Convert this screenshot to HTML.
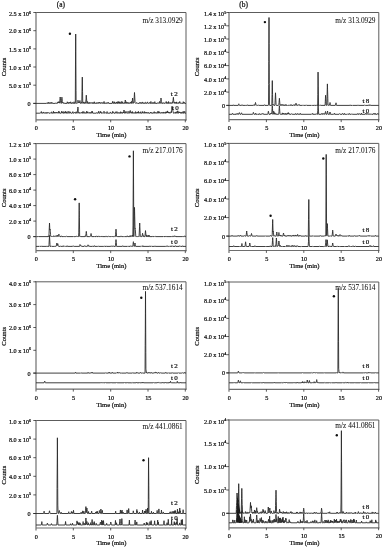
<!DOCTYPE html><html><head><meta charset="utf-8"><style>html,body{margin:0;padding:0;background:#fff;overflow:hidden;}svg{display:block;}text{font-family:"Liberation Serif", serif;fill:#111;stroke:#111;stroke-width:0.22px;}</style></head><body>
<svg width="385" height="550" viewBox="0 0 385 550">
<defs><filter id="bl" x="0" y="0" width="100%" height="100%" filterUnits="userSpaceOnUse"><feGaussianBlur stdDeviation="0.45"/></filter></defs>
<rect width="385" height="550" fill="#fff"/>
<g filter="url(#bl)"><rect width="385" height="550" fill="#fff"/>
<g><path d="M35.5 12.5H186.0V120.5" fill="none" stroke="#5c5c5c" stroke-width="1.00"/><path d="M36.0 12.0V122.3" fill="none" stroke="#6e6e6e" stroke-width="1.20"/><path d="M36.0 119.9H186.5" fill="none" stroke="#6e6e6e" stroke-width="1.20"/><path d="M73.3 119.9V122.3" stroke="#333" stroke-width="0.8"/><path d="M110.7 119.9V122.3" stroke="#333" stroke-width="0.8"/><path d="M148.0 119.9V122.3" stroke="#333" stroke-width="0.8"/><path d="M185.3 119.9V122.3" stroke="#333" stroke-width="0.8"/><path d="M33.3 12.5H36.0" stroke="#333" stroke-width="0.8"/><text x="31.0" y="16.3" font-size="6.2" text-anchor="end">2.5 x 10<tspan font-size="4.0" dy="-2.7">6</tspan></text><path d="M33.3 30.7H36.0" stroke="#333" stroke-width="0.8"/><text x="31.0" y="33.4" font-size="6.2" text-anchor="end">2.0 x 10<tspan font-size="4.0" dy="-2.7">6</tspan></text><path d="M33.3 48.9H36.0" stroke="#333" stroke-width="0.8"/><text x="31.0" y="51.6" font-size="6.2" text-anchor="end">1.5 x 10<tspan font-size="4.0" dy="-2.7">6</tspan></text><path d="M33.3 67.0H36.0" stroke="#333" stroke-width="0.8"/><text x="31.0" y="69.7" font-size="6.2" text-anchor="end">1.0 x 10<tspan font-size="4.0" dy="-2.7">6</tspan></text><path d="M33.3 85.2H36.0" stroke="#333" stroke-width="0.8"/><text x="31.0" y="87.9" font-size="6.2" text-anchor="end">5.0 x 10<tspan font-size="4.0" dy="-2.7">5</tspan></text><path d="M33.3 103.4H36.0" stroke="#333" stroke-width="0.8"/><text x="30.5" y="105.9" font-size="6.2" text-anchor="end">0</text><text x="36.3" y="130.4" font-size="6.2" text-anchor="middle">0</text><text x="73.6" y="130.4" font-size="6.2" text-anchor="middle">5</text><text x="111.0" y="130.4" font-size="6.2" text-anchor="middle">10</text><text x="148.3" y="130.4" font-size="6.2" text-anchor="middle">15</text><text x="185.6" y="130.4" font-size="6.2" text-anchor="middle">20</text><text x="111.4" y="137.2" font-size="6.6" text-anchor="middle">Time (min)</text><text x="0" y="0" font-size="6.6" text-anchor="middle" transform="translate(5.8 67.0) rotate(-90)">Counts</text><text x="182.7" y="22.5" font-size="7.3" text-anchor="end" style="stroke-width:0.05px">m/z 313.0929</text><text x="60.9" y="7.4" font-size="7.4" text-anchor="middle">(a)</text><polyline points="33.30,103.40 46.30,103.40 46.43,103.40 46.55,103.21 46.74,102.89 47.05,103.40 47.23,103.40 47.30,103.22 47.51,102.69 47.79,103.40 48.22,103.40 48.30,103.11 48.51,102.35 48.79,103.40 49.30,103.40 49.55,103.40 49.80,102.68 49.86,102.47 50.05,103.12 50.13,103.40 50.55,103.40 50.74,103.22 51.05,102.49 51.13,102.24 51.30,102.73 51.53,103.40 51.70,103.40 51.80,103.12 52.02,102.49 52.30,103.29 52.55,103.40 55.42,103.40 55.55,103.25 55.76,102.95 55.85,102.90 56.05,102.71 56.27,103.08 56.42,103.40 56.55,103.40 57.37,103.40 57.55,102.61 57.66,102.12 57.75,102.50 57.96,102.46 58.05,101.87 58.30,102.82 58.43,103.04 58.55,102.60 58.74,101.91 58.83,102.21 59.05,102.25 59.14,101.63 59.30,102.08 59.46,102.76 59.55,103.16 59.80,101.27 60.05,98.60 60.18,97.00 60.30,98.07 60.53,100.52 60.80,102.85 60.88,103.22 61.05,103.40 61.30,103.40 61.55,100.82 61.80,98.23 61.90,97.20 62.05,98.75 62.30,101.28 62.47,102.95 62.55,102.84 62.62,102.69 62.80,102.87 62.88,102.73 63.05,102.99 63.20,103.24 63.30,103.14 63.48,102.64 63.55,102.82 63.77,103.40 64.30,103.40 64.38,103.40 64.55,103.04 64.64,102.86 64.80,103.18 64.91,103.40 65.05,103.40 66.94,103.40 67.05,102.97 67.30,101.80 67.55,102.71 67.68,103.25 67.80,103.04 68.05,102.28 68.30,103.01 68.43,103.40 68.94,103.40 69.05,103.06 69.30,102.31 69.38,102.07 69.55,102.59 69.80,103.34 70.05,103.40 70.27,103.26 70.55,102.15 70.63,101.81 70.80,102.56 70.99,103.40 71.05,103.40 71.55,103.40 71.80,102.89 71.87,102.73 72.05,103.13 72.13,103.31 72.30,103.00 72.48,102.56 72.55,102.72 72.80,103.31 73.05,103.40 73.16,103.40 73.30,103.15 73.45,102.90 73.55,103.08 73.73,103.40 73.80,103.10 74.05,101.76 74.30,102.76 74.44,103.40 74.55,103.40 75.30,103.40 75.53,60.03 75.70,34.00 75.80,51.35 76.03,90.39 76.10,102.04 76.19,102.57 76.30,103.17 76.55,103.40 77.05,103.40 77.26,103.32 77.50,102.83 77.61,102.68 77.80,101.48 77.97,100.20 78.05,100.52 78.30,102.12 78.50,102.62 78.62,102.38 78.80,102.95 78.94,103.00 79.05,102.67 79.18,102.31 79.30,102.67 79.40,102.96 79.55,102.53 79.80,101.08 79.90,100.50 80.05,101.37 80.30,102.82 80.40,103.40 80.49,103.40 80.55,103.28 80.80,102.77 81.05,103.26 81.12,103.40 81.24,103.40 81.30,103.21 81.55,102.42 81.62,102.19 81.80,102.74 82.01,91.07 82.30,77.10 82.38,82.01 82.55,91.71 82.71,100.89 82.80,103.40 83.05,103.40 83.30,103.40 83.55,102.13 83.63,102.45 83.80,102.66 84.03,101.91 84.30,102.91 84.43,103.40 84.55,103.40 85.05,103.40 85.30,102.74 85.40,102.40 85.55,102.88 85.70,103.30 85.80,102.03 85.98,99.53 86.05,98.62 86.24,96.03 86.30,95.20 86.49,97.85 86.80,102.03 86.90,103.40 87.23,103.40 87.30,103.07 87.55,101.54 87.80,102.49 87.98,103.40 88.55,103.40 88.80,103.40 89.05,102.56 89.17,102.08 89.30,102.61 89.50,103.40 90.42,103.40 90.55,103.09 90.80,102.48 90.86,102.60 91.05,103.03 91.21,102.92 91.27,102.83 91.55,103.22 91.66,103.37 91.80,103.16 92.05,102.70 92.30,103.08 92.49,103.40 92.55,103.40 92.74,103.40 92.80,103.17 93.01,102.37 93.28,103.40 93.55,103.40 93.80,103.40 93.99,103.10 94.30,101.77 94.55,103.03 94.62,103.40 94.80,103.40 95.05,102.98 95.13,102.81 95.30,103.15 95.42,103.40 96.55,103.40 96.80,102.71 96.88,102.46 97.05,102.98 97.11,103.18 97.19,103.28 97.30,103.10 97.47,102.81 97.55,102.94 97.80,103.34 98.05,103.40 98.30,102.81 98.47,102.39 98.55,102.58 98.80,103.21 98.88,103.40 99.05,103.40 99.12,103.40 99.30,102.88 99.53,102.20 99.64,102.52 99.80,102.97 99.94,102.61 100.02,102.38 100.30,103.12 100.41,103.40 101.30,103.40 101.55,102.92 101.73,102.47 101.80,102.63 102.04,102.29 102.12,102.56 102.30,103.21 102.55,103.40 103.05,103.40 103.25,103.27 103.51,102.78 103.77,103.40 104.05,101.49 104.30,102.92 104.37,103.40 105.55,103.40 105.74,103.40 105.80,103.27 106.05,102.66 106.30,103.11 106.44,103.40 106.55,103.40 106.80,103.40 107.05,102.94 107.20,102.66 107.30,102.84 107.55,103.31 107.77,103.31 108.05,102.59 108.22,102.11 108.30,102.34 108.55,103.06 108.67,103.40 108.80,103.40 112.05,103.40 112.29,103.36 112.55,101.52 112.72,102.51 112.80,102.60 113.01,101.67 113.30,103.39 113.55,103.40 114.23,103.40 114.30,102.99 114.50,101.81 114.78,103.40 115.55,103.40 115.80,102.85 115.88,102.64 116.05,103.07 116.18,103.40 116.30,103.14 116.55,101.94 116.80,102.76 116.96,103.40 117.05,103.40 117.30,103.40 117.55,103.40 117.80,101.64 118.05,103.11 118.30,103.40 118.50,103.09 118.80,101.56 119.05,102.87 119.14,103.21 119.30,102.37 119.38,101.95 119.55,102.86 119.65,103.40 120.22,103.40 120.30,103.17 120.51,102.54 120.79,103.40 120.98,103.40 121.05,103.04 121.30,101.46 121.55,102.54 121.71,103.40 121.80,103.40 122.05,103.40 122.21,103.40 122.30,102.99 122.55,101.76 122.80,102.84 122.92,103.40 123.42,103.40 123.55,103.24 123.80,102.88 124.05,103.13 124.28,103.40 124.55,102.68 124.80,103.27 125.05,101.70 125.20,100.65 125.30,100.00 125.50,101.39 125.80,103.39 125.86,103.40 126.05,102.56 126.23,101.76 126.30,102.10 126.55,103.23 126.80,103.40 127.30,103.40 127.55,102.64 127.71,102.15 127.80,102.42 128.05,103.19 128.12,103.40 128.24,103.40 128.30,103.27 128.55,102.77 128.80,103.28 128.86,103.40 128.97,103.40 129.05,103.24 129.30,102.67 129.55,103.04 129.74,103.40 129.80,103.40 130.05,103.40 130.24,103.21 130.55,102.37 130.66,102.01 130.80,102.50 131.05,103.34 131.30,102.26 131.45,101.42 131.55,101.96 131.80,103.35 132.05,103.40 132.20,102.34 132.30,101.24 132.55,98.00 132.63,98.35 132.80,100.16 133.05,102.86 133.24,103.40 133.30,103.23 133.55,102.58 133.63,102.37 133.80,102.80 133.90,102.47 134.03,100.67 134.28,96.13 134.50,92.50 134.62,94.61 134.80,97.95 134.97,101.07 135.05,102.49 135.30,102.81 135.55,103.12 135.73,103.40 135.80,103.40 136.16,103.40 136.30,103.13 136.55,102.64 136.76,103.02 136.96,103.14 137.05,103.02 137.14,102.89 137.30,103.10 137.53,103.40 139.05,103.40 139.25,103.26 139.55,102.53 139.80,103.18 139.88,103.40 140.05,103.40 140.20,103.40 140.30,103.17 140.54,102.62 140.72,103.03 140.80,103.20 140.88,103.00 141.05,102.59 141.12,102.41 141.30,102.84 141.53,103.40 141.80,103.40 142.05,103.40 142.30,102.66 142.51,101.94 142.80,102.92 142.94,103.40 143.05,103.40 143.15,103.40 143.30,103.03 143.41,102.77 143.55,103.13 143.66,103.40 144.30,103.40 144.55,103.40 144.80,102.84 144.88,102.64 145.05,103.08 145.17,103.40 145.30,103.40 145.38,103.40 145.55,102.86 145.75,102.26 146.05,102.52 146.11,102.60 146.30,103.17 146.38,103.40 147.05,103.40 147.22,103.40 147.30,103.09 147.55,102.16 147.62,101.91 147.80,102.59 148.02,102.78 148.30,103.17 148.44,103.40 149.15,103.40 149.30,103.04 149.53,102.49 149.80,103.14 149.91,103.40 150.05,103.40 150.55,103.40 150.77,101.96 150.88,101.49 151.05,102.55 151.19,103.01 151.30,103.18 151.45,103.40 151.55,103.40 151.70,103.40 151.80,103.21 152.05,102.64 152.30,103.05 152.48,103.40 152.55,103.40 152.80,103.40 153.05,102.55 153.13,102.25 153.30,102.94 153.42,103.40 153.55,103.40 154.55,103.40 154.80,101.66 155.05,103.11 155.30,103.40 157.30,103.40 157.46,103.40 157.55,103.23 157.80,102.77 157.87,102.64 157.97,102.83 158.05,102.97 158.28,102.87 158.55,103.17 158.71,103.40 158.80,103.40 159.05,103.40 159.25,103.14 159.55,101.48 159.80,102.54 159.96,103.40 160.05,103.40 160.28,103.36 160.50,102.86 160.67,101.53 160.80,100.16 160.88,99.27 161.00,98.00 161.07,98.77 161.30,101.24 161.50,102.43 161.76,103.40 161.86,103.40 162.05,102.96 162.18,102.67 162.30,102.95 162.49,103.40 162.80,103.40 163.05,103.40 163.30,102.96 163.43,102.73 163.55,102.96 163.74,103.27 164.02,102.77 164.30,103.40 164.55,103.40 165.05,103.40 165.25,103.32 165.55,102.88 165.62,102.76 165.80,103.09 165.98,102.74 166.05,102.38 166.23,101.51 166.30,101.85 166.55,103.06 166.62,103.40 166.80,103.40 167.05,103.40 167.30,102.65 167.36,102.45 167.55,103.07 167.65,103.40 167.80,103.40 168.05,103.40 168.29,103.35 168.55,101.54 168.80,103.01 168.86,103.40 169.05,103.40 169.23,103.40 169.30,103.26 169.55,102.70 169.80,103.09 169.96,103.40 170.05,103.40 170.30,103.40 170.47,103.40 170.55,103.18 170.80,102.54 170.86,102.38 170.96,102.63 171.05,102.87 171.23,102.78 171.30,102.93 171.51,103.40 172.05,103.40 172.29,103.36 172.55,102.26 172.67,101.74 172.80,102.32 172.90,102.76 173.04,100.96 173.30,98.04 173.40,97.30 173.55,99.13 173.70,100.80 173.80,101.23 173.90,101.67 174.05,102.32 174.30,103.40 174.55,102.70 174.71,102.16 174.80,102.45 174.97,103.03 175.05,103.06 175.28,102.44 175.55,103.28 175.80,103.40 176.21,103.40 176.30,103.01 176.55,101.90 176.80,102.99 176.89,103.40 177.05,103.40 177.30,103.01 177.43,102.80 177.55,103.00 177.79,103.40 178.30,103.40 178.47,103.40 178.55,103.18 178.80,102.50 178.90,102.24 179.05,102.64 179.30,103.26 179.55,102.26 179.72,101.50 179.80,101.89 180.05,102.80 180.12,102.67 180.30,103.02 180.50,103.40 180.57,103.40 180.80,103.09 181.01,102.80 181.30,103.19 181.45,103.40 181.55,103.40 182.80,103.40 183.05,102.59 183.27,101.70 183.55,102.84 183.69,103.40 183.80,103.40 184.05,102.61 184.20,102.07 184.30,102.42 184.55,103.30 184.80,103.40 186.00,103.40" fill="none" stroke="#2a2a2a" stroke-width="0.90" stroke-linejoin="round"/><polyline points="36.00,113.20 39.75,113.20 39.87,113.20 40.00,113.05 40.25,112.69 40.50,112.91 40.75,113.20 40.96,113.02 41.25,111.88 41.33,111.51 41.50,112.28 41.70,113.20 42.00,112.68 42.09,112.48 42.25,112.82 42.42,113.20 42.50,113.20 43.00,113.20 43.25,113.20 43.50,112.31 43.58,111.96 43.75,112.65 43.88,113.04 44.00,112.86 44.11,112.68 44.25,112.91 44.44,113.20 45.50,113.20 45.64,113.20 45.75,112.91 46.00,112.19 46.25,112.84 46.38,113.20 46.50,113.20 47.00,113.20 47.25,112.60 47.35,112.30 47.50,112.74 47.66,113.20 47.75,113.20 48.00,113.20 48.20,113.13 48.50,112.73 48.64,112.50 48.75,112.68 49.00,113.08 49.08,113.20 50.25,113.20 50.35,113.20 50.50,112.98 50.69,112.69 51.00,113.15 51.25,113.20 51.38,113.20 51.50,112.71 51.73,111.80 52.00,112.57 52.08,112.67 52.25,113.04 52.32,113.20 53.00,113.20 53.25,113.20 53.50,111.31 53.75,113.08 54.00,113.20 54.42,113.20 54.50,112.95 54.75,112.18 55.00,112.94 55.08,113.02 55.25,112.40 55.50,113.03 55.75,113.20 56.00,113.20 56.25,113.20 56.50,112.56 56.66,112.07 56.75,112.35 56.88,112.76 57.00,112.92 57.25,112.39 57.50,112.81 57.70,113.20 58.25,113.20 58.33,113.20 58.50,112.35 58.72,111.26 59.00,112.67 59.10,112.82 59.25,111.74 59.50,112.79 59.58,113.20 59.75,113.20 61.00,113.20 61.25,113.20 61.50,112.11 61.66,111.28 61.75,111.76 61.90,112.54 62.00,112.63 62.22,111.75 62.50,113.02 62.75,113.20 63.59,113.20 63.75,112.17 63.85,111.52 64.00,112.43 64.12,113.20 64.25,113.20 64.50,112.59 64.61,112.27 64.75,112.64 64.95,113.20 65.22,113.03 65.50,111.76 65.60,111.26 65.75,112.02 65.98,113.20 66.25,113.20 66.50,112.20 66.56,111.91 66.75,112.74 66.85,113.20 67.25,113.20 67.50,113.20 67.75,112.31 67.89,111.76 67.97,112.04 68.25,111.43 68.50,112.62 68.60,113.20 68.75,113.20 69.41,113.20 69.50,112.86 69.75,111.90 69.84,111.56 70.00,112.18 70.23,113.06 70.50,112.45 70.75,113.02 70.82,113.20 72.25,113.20 72.46,113.03 72.75,112.03 72.85,111.63 73.00,112.23 73.24,113.20 73.50,113.20 74.00,113.20 74.25,112.87 74.47,112.56 74.75,112.98 74.81,113.07 74.91,112.90 75.00,112.60 75.09,112.32 75.25,112.83 75.36,113.20 75.50,113.20 75.75,113.20 75.96,113.02 76.25,111.71 76.50,112.61 76.63,113.20 77.25,113.20 77.50,111.13 77.75,108.55 77.90,107.00 77.99,107.90 78.25,110.62 78.31,111.28 78.50,112.60 78.64,113.20 78.73,113.13 79.00,112.43 79.11,112.13 79.25,112.54 79.48,113.20 80.25,113.20 80.43,113.20 80.50,113.10 80.75,112.76 80.88,112.59 81.00,112.76 81.25,113.10 81.32,113.20 81.50,112.81 81.70,112.29 82.00,113.06 82.25,113.20 82.37,113.20 82.50,112.54 82.68,111.62 82.75,112.00 82.98,113.20 83.37,113.20 83.50,112.69 83.70,111.71 83.80,111.54 84.00,111.79 84.22,112.64 84.35,113.20 84.50,113.20 84.69,113.20 84.75,113.07 85.00,112.43 85.25,112.83 85.42,113.20 85.50,113.20 86.25,113.20 86.32,113.20 86.50,112.12 86.66,111.21 86.75,111.76 87.00,113.20 87.25,113.20 87.45,112.99 87.75,111.76 87.92,112.23 88.00,112.56 88.16,112.82 88.25,112.61 88.50,112.95 88.66,113.20 88.75,113.20 89.25,113.20 89.38,113.20 89.50,112.91 89.75,112.31 90.00,112.92 90.12,113.20 90.25,113.20 90.35,113.20 90.50,112.81 90.63,112.48 90.75,112.80 90.90,113.20 91.34,113.20 91.50,112.55 91.75,111.40 92.00,112.30 92.14,112.87 92.22,112.48 92.42,111.37 92.50,111.88 92.70,113.20 96.25,113.20 96.44,113.20 96.50,113.08 96.75,112.61 96.83,112.45 97.00,112.77 97.22,113.20 98.00,113.20 98.24,113.17 98.50,111.98 98.66,111.23 98.75,111.67 99.00,112.86 99.07,113.20 99.93,113.20 100.00,112.91 100.25,111.86 100.37,111.34 100.50,111.88 100.69,112.68 100.81,112.66 101.00,111.82 101.25,112.87 101.33,113.20 101.75,113.20 101.98,113.17 102.25,112.69 102.50,113.06 102.58,113.20 102.75,113.20 103.25,113.20 103.48,113.15 103.62,112.84 103.75,112.40 104.00,111.22 104.07,111.51 104.25,112.44 104.40,113.20 104.50,113.20 104.75,113.20 104.84,113.20 105.00,112.95 105.25,112.50 105.50,112.86 105.71,113.20 106.75,113.20 107.00,111.96 107.08,111.57 107.25,112.45 107.40,113.20 109.75,113.20 109.99,113.18 110.25,112.36 110.38,111.94 110.50,112.34 110.75,113.16 111.00,113.20 112.50,113.20 112.75,111.32 113.00,112.61 113.07,113.06 113.25,112.87 113.46,112.49 113.75,113.02 113.85,113.20 114.00,113.20 115.16,113.20 115.25,112.87 115.50,111.80 115.75,112.57 115.92,113.20 116.33,113.20 116.50,112.63 116.75,111.79 117.00,112.06 117.06,111.76 117.17,112.26 117.25,112.60 117.38,113.20 117.85,113.20 118.00,112.81 118.18,112.34 118.25,112.53 118.50,113.19 118.75,113.20 119.50,113.20 119.59,113.20 119.75,112.69 119.84,112.39 120.00,112.90 120.09,113.20 120.25,113.20 120.43,113.20 120.50,112.76 120.68,111.69 120.75,112.11 120.93,113.20 121.00,113.20 121.24,113.18 121.50,112.64 121.75,113.14 122.00,112.61 122.09,112.37 122.25,112.77 122.42,113.20 122.50,113.20 122.75,113.20 123.00,113.20 123.25,112.22 123.31,111.92 123.50,112.84 123.58,112.72 123.65,112.25 123.75,111.60 124.00,110.00 124.25,111.60 124.36,112.29 124.50,113.20 124.82,113.20 125.00,112.31 125.18,111.44 125.25,111.80 125.50,113.03 125.75,113.20 126.00,113.20 126.25,113.20 126.50,112.58 126.60,112.31 126.71,111.97 127.00,111.39 127.15,112.00 127.25,112.46 127.42,113.20 127.50,113.20 128.50,113.20 128.66,112.52 128.75,112.09 128.90,111.43 129.00,111.89 129.08,111.67 129.25,112.29 129.50,113.20 129.75,113.20 129.86,112.90 130.00,112.12 130.24,110.50 130.50,111.58 130.63,112.29 130.75,112.93 131.00,113.20 131.25,112.71 131.45,112.22 131.75,112.95 131.85,113.20 131.99,113.16 132.25,111.47 132.50,113.10 132.75,113.20 133.40,113.20 133.50,112.98 133.67,112.59 133.75,112.77 133.94,113.20 134.25,113.20 134.32,113.20 134.50,112.90 134.62,112.70 134.75,112.92 134.92,113.20 135.32,113.20 135.50,112.15 135.59,111.62 135.75,112.58 135.85,113.20 136.25,113.20 136.47,113.12 136.75,112.41 136.82,112.23 137.00,112.75 137.16,113.20 137.25,113.20 137.45,113.00 137.74,112.09 138.00,113.09 138.25,112.07 138.38,111.35 138.50,111.99 138.72,113.20 139.00,113.20 139.37,113.20 139.50,112.95 139.75,112.42 140.00,112.85 140.19,113.20 140.25,113.20 140.49,113.17 140.75,112.03 140.83,111.68 141.00,112.47 141.16,113.20 142.25,113.20 142.47,113.00 142.71,111.49 143.00,112.63 143.07,112.39 143.25,112.64 143.50,113.13 143.75,113.20 144.00,113.20 144.25,113.20 144.50,111.99 144.58,111.57 144.75,112.50 144.88,113.20 145.00,113.20 145.25,113.20 145.46,113.06 145.71,112.41 145.94,113.04 146.25,112.32 146.50,112.99 146.58,113.20 146.72,113.16 147.00,112.75 147.14,112.52 147.25,112.69 147.50,113.10 147.56,113.20 147.75,113.20 147.86,113.20 148.00,112.83 148.22,112.26 148.50,112.97 148.59,113.20 150.00,113.20 150.25,113.20 150.50,112.37 150.57,112.14 150.64,112.36 150.75,112.73 150.89,112.42 151.00,112.02 151.25,112.71 151.41,113.20 151.50,113.20 152.75,113.20 152.99,113.16 153.25,112.53 153.50,113.06 153.56,113.20 153.75,113.20 153.96,112.99 154.25,111.66 154.50,112.81 154.58,113.20 154.75,113.20 155.25,113.20 155.48,113.14 155.75,112.48 155.88,112.14 156.00,112.46 156.25,113.12 156.50,113.20 157.41,113.20 157.50,112.79 157.75,111.66 157.82,111.34 158.00,112.14 158.23,113.20 158.48,113.12 158.75,112.01 158.88,111.43 159.00,111.96 159.25,113.07 159.42,113.20 159.50,113.00 159.62,112.69 159.75,112.29 160.00,112.63 160.16,112.84 160.25,112.97 160.41,113.20 160.50,113.20 160.75,113.20 160.93,113.20 161.00,113.08 161.25,112.57 161.50,112.98 161.62,113.20 161.70,113.07 162.00,112.40 162.12,112.09 162.25,112.45 162.50,113.12 162.75,113.20 163.25,113.20 163.48,113.12 163.75,111.98 164.00,112.68 164.14,113.20 164.25,113.20 164.50,112.84 164.63,112.65 164.75,112.83 165.00,113.20 165.25,113.19 165.50,112.26 165.60,111.87 165.75,112.42 165.96,113.20 166.06,113.20 166.25,112.62 166.39,112.18 166.50,112.51 166.66,113.00 166.73,112.80 167.00,111.53 167.16,112.06 167.25,112.46 167.42,111.63 167.50,110.92 167.73,112.12 167.91,112.37 168.00,111.87 168.25,112.99 168.46,113.07 168.75,112.16 169.00,113.04 169.19,113.07 169.25,113.07 169.50,112.39 169.75,112.84 169.82,113.01 169.91,113.20 170.00,113.20 170.19,113.20 170.25,113.10 170.50,112.72 170.57,112.61 170.75,112.89 170.95,112.95 171.24,111.44 171.36,112.22 171.50,112.47 171.75,109.53 172.00,106.30 172.17,108.70 172.25,109.75 172.50,108.95 172.60,108.50 172.68,109.10 172.75,109.68 172.82,110.25 173.00,111.24 173.10,111.49 173.20,111.98 173.44,113.20 173.50,113.20 174.38,113.20 174.50,113.00 174.75,112.54 175.00,112.90 175.18,113.20 175.25,113.20 175.50,113.20 175.75,111.95 176.00,112.74 176.11,113.20 176.25,113.20 176.50,112.43 176.72,111.69 177.00,112.67 177.15,113.20 177.25,113.20 177.33,113.20 177.43,112.57 177.50,112.16 177.73,110.81 178.00,112.44 178.13,113.20 178.50,113.20 178.75,112.23 178.88,111.69 179.00,112.19 179.10,112.61 179.24,112.76 179.50,112.03 179.60,112.32 179.75,112.76 179.90,112.36 180.00,111.97 180.25,112.53 180.49,113.20 180.85,113.20 181.00,112.61 181.16,111.98 181.25,112.35 181.46,113.20 181.75,113.20 181.92,113.20 182.00,113.01 182.24,112.41 182.50,113.08 182.75,113.20 182.90,113.20 183.00,112.55 183.19,111.28 183.25,111.69 183.47,113.20 184.00,113.20 184.25,113.20 184.50,112.26 184.71,111.35 185.00,112.66 185.12,113.20 186.00,113.20" fill="none" stroke="#2a2a2a" stroke-width="0.90" stroke-linejoin="round"/><text x="170.8" y="96.4" font-size="7.0" letter-spacing="1.4">t2</text><text x="172.0" y="110.1" font-size="7.0" letter-spacing="1.4">t0</text></g>
<g><path d="M228.5 12.5H378.8V120.3" fill="none" stroke="#5c5c5c" stroke-width="1.00"/><path d="M229.0 12.0V122.1" fill="none" stroke="#6e6e6e" stroke-width="1.20"/><path d="M229.0 119.7H379.3" fill="none" stroke="#6e6e6e" stroke-width="1.20"/><path d="M266.4 119.7V122.1" stroke="#333" stroke-width="0.8"/><path d="M303.8 119.7V122.1" stroke="#333" stroke-width="0.8"/><path d="M341.2 119.7V122.1" stroke="#333" stroke-width="0.8"/><path d="M378.6 119.7V122.1" stroke="#333" stroke-width="0.8"/><path d="M226.3 12.5H229.0" stroke="#333" stroke-width="0.8"/><text x="226.2" y="16.3" font-size="6.2" text-anchor="end">1.4 x 10<tspan font-size="4.0" dy="-2.7">5</tspan></text><path d="M226.3 25.8H229.0" stroke="#333" stroke-width="0.8"/><text x="226.2" y="28.5" font-size="6.2" text-anchor="end">1.2 x 10<tspan font-size="4.0" dy="-2.7">5</tspan></text><path d="M226.3 39.0H229.0" stroke="#333" stroke-width="0.8"/><text x="226.2" y="41.7" font-size="6.2" text-anchor="end">1.0 x 10<tspan font-size="4.0" dy="-2.7">5</tspan></text><path d="M226.3 52.3H229.0" stroke="#333" stroke-width="0.8"/><text x="226.2" y="55.0" font-size="6.2" text-anchor="end">8.0 x 10<tspan font-size="4.0" dy="-2.7">4</tspan></text><path d="M226.3 65.6H229.0" stroke="#333" stroke-width="0.8"/><text x="226.2" y="68.3" font-size="6.2" text-anchor="end">6.0 x 10<tspan font-size="4.0" dy="-2.7">4</tspan></text><path d="M226.3 78.9H229.0" stroke="#333" stroke-width="0.8"/><text x="226.2" y="81.6" font-size="6.2" text-anchor="end">4.0 x 10<tspan font-size="4.0" dy="-2.7">4</tspan></text><path d="M226.3 92.1H229.0" stroke="#333" stroke-width="0.8"/><text x="226.2" y="94.8" font-size="6.2" text-anchor="end">2.0 x 10<tspan font-size="4.0" dy="-2.7">4</tspan></text><path d="M226.3 105.4H229.0" stroke="#333" stroke-width="0.8"/><text x="225.0" y="107.9" font-size="6.2" text-anchor="end">0</text><text x="229.3" y="130.2" font-size="6.2" text-anchor="middle">0</text><text x="266.7" y="130.2" font-size="6.2" text-anchor="middle">5</text><text x="304.1" y="130.2" font-size="6.2" text-anchor="middle">10</text><text x="341.5" y="130.2" font-size="6.2" text-anchor="middle">15</text><text x="378.9" y="130.2" font-size="6.2" text-anchor="middle">20</text><text x="304.5" y="137.0" font-size="6.6" text-anchor="middle">Time (min)</text><text x="0" y="0" font-size="6.6" text-anchor="middle" transform="translate(198.7 66.9) rotate(-90)">Counts</text><text x="375.5" y="22.5" font-size="7.3" text-anchor="end" style="stroke-width:0.05px">m/z 313.0929</text><text x="243.6" y="7.4" font-size="7.4" text-anchor="middle">(b)</text><polyline points="226.30,105.40 233.05,105.40 233.19,105.40 233.30,105.15 233.45,104.82 233.55,105.06 233.70,105.40 238.30,105.40 238.55,104.60 238.62,104.38 238.80,103.80 239.04,104.57 239.30,105.14 239.47,105.40 239.55,105.40 241.55,105.40 241.67,105.40 241.80,105.18 242.05,104.70 242.30,105.05 242.51,105.40 245.55,105.40 245.80,105.40 246.05,105.08 246.13,104.97 246.30,105.19 246.46,105.40 246.55,105.40 247.05,105.40 247.12,105.40 247.30,105.06 247.44,104.78 247.55,104.99 247.76,105.40 253.45,105.40 253.55,105.31 253.77,105.10 253.84,105.16 254.05,104.79 254.20,104.54 254.30,104.77 254.55,105.37 254.80,105.40 254.90,105.40 255.05,104.67 255.30,103.47 255.50,102.50 255.80,103.95 256.05,105.16 256.30,105.40 256.55,105.16 256.71,104.97 256.80,105.08 257.05,105.38 257.30,105.40 257.80,105.40 258.01,105.37 258.30,105.19 258.39,105.13 258.55,105.24 258.77,105.40 259.05,105.40 264.05,105.40 264.15,105.40 264.30,105.14 264.55,104.70 264.80,105.15 264.94,105.40 268.05,105.40 268.27,105.37 268.40,105.25 268.55,104.87 268.69,84.52 268.79,61.45 269.00,17.50 269.12,43.43 269.21,63.87 269.30,83.43 269.40,104.87 269.55,105.27 269.64,105.40 269.80,105.40 271.55,105.40 271.80,105.40 272.05,94.38 272.17,87.76 272.30,80.60 272.55,94.38 272.61,97.85 272.72,103.64 272.80,105.15 273.05,104.21 273.16,104.36 273.30,104.80 273.49,104.92 273.80,105.37 274.05,105.40 274.90,105.40 275.05,102.25 275.30,97.00 275.50,92.80 275.80,99.10 276.05,104.35 276.30,105.40 278.37,105.40 278.55,105.14 278.77,104.84 279.05,102.44 279.18,100.89 279.30,99.48 279.40,98.30 279.55,100.08 279.80,103.03 280.00,105.40 280.46,105.40 280.55,105.14 280.74,104.56 280.80,104.76 281.01,105.20 281.21,105.08 281.30,105.15 281.55,105.35 281.61,105.36 281.80,104.85 282.02,104.27 282.30,105.03 282.44,105.40 282.50,105.32 282.80,104.84 283.05,105.20 283.17,105.40 283.55,105.40 283.62,105.40 283.80,104.84 283.88,104.59 284.05,105.11 284.14,105.40 285.55,105.40 285.80,104.67 285.90,104.33 286.05,104.86 286.21,105.40 286.30,105.40 287.05,105.40 287.30,105.40 287.55,105.00 287.80,105.26 287.90,105.40 288.30,105.40 288.55,105.21 288.69,105.07 288.80,105.17 288.93,105.30 289.03,105.24 289.28,104.93 289.55,105.28 289.64,105.40 289.78,105.37 290.05,104.93 290.30,105.22 290.42,105.40 290.67,105.40 290.80,105.07 291.03,104.49 291.30,105.19 291.38,105.40 291.55,105.40 293.13,105.40 293.30,105.23 293.52,105.01 293.73,105.22 293.80,105.22 293.92,104.89 294.05,104.45 294.30,105.07 294.42,105.40 295.30,105.40 295.50,105.18 295.80,104.08 296.00,103.20 296.30,104.52 296.50,105.29 296.80,104.58 297.05,105.22 297.12,105.40 297.30,105.40 297.88,105.40 298.05,105.29 298.27,105.13 298.55,105.00 298.70,104.79 298.80,104.93 299.01,105.24 299.12,105.10 299.30,104.64 299.55,105.30 299.80,105.40 302.30,105.40 302.40,105.40 302.55,105.29 302.66,105.21 302.73,105.16 302.80,105.21 303.05,105.03 303.30,105.21 303.52,105.40 303.80,105.40 305.55,105.40 305.79,105.39 306.05,105.08 306.23,104.87 306.30,104.95 306.55,105.26 306.67,105.40 306.80,105.40 311.30,105.40 311.38,105.40 311.55,105.23 311.79,104.98 312.05,105.24 312.20,105.40 312.30,105.40 314.55,105.40 314.80,105.17 315.05,105.33 315.14,105.40 316.05,105.40 316.20,105.40 316.30,105.23 316.49,104.91 316.55,105.01 316.78,105.40 317.65,105.40 317.80,94.30 317.91,85.94 318.05,72.10 318.30,86.90 318.55,105.29 318.75,105.40 319.00,105.33 319.30,104.93 319.55,105.19 319.71,105.40 319.80,105.40 320.05,105.29 320.30,105.16 320.55,105.30 320.74,105.40 321.05,105.40 325.05,105.40 325.19,103.66 325.30,101.36 325.45,98.33 325.55,95.30 325.71,97.58 325.80,99.34 326.05,104.39 326.30,105.40 326.55,105.40 326.80,105.40 327.05,96.44 327.30,87.48 327.40,83.90 327.55,89.28 327.80,98.23 327.91,102.25 328.00,105.15 328.18,104.92 328.30,105.12 328.45,105.40 329.30,105.40 329.50,105.11 329.80,103.66 330.00,102.50 330.30,104.24 330.50,105.40 335.30,105.40 335.50,105.14 335.80,103.84 336.00,102.80 336.30,104.36 336.50,105.40 349.80,105.40 349.92,105.40 350.05,105.14 350.19,104.86 350.30,105.09 350.45,105.40 351.98,105.40 352.05,105.32 352.30,105.02 352.55,105.33 352.80,105.40 357.55,105.40 357.77,105.35 358.05,104.90 358.30,105.27 358.38,105.40 364.30,105.40 364.55,105.19 364.69,105.05 364.80,105.15 365.05,105.39 365.30,105.40 368.55,105.40 368.75,105.29 369.05,104.76 369.30,105.22 369.39,105.40 369.80,105.40 370.05,104.93 370.11,104.79 370.30,105.22 370.38,105.40 370.55,105.40 378.80,105.40" fill="none" stroke="#2a2a2a" stroke-width="0.90" stroke-linejoin="round"/><polyline points="229.00,114.30 232.00,114.30 232.10,114.30 232.25,113.93 232.50,113.27 232.75,113.84 232.94,114.30 233.00,114.30 236.00,114.30 236.25,113.76 236.31,113.62 236.50,114.06 236.61,114.30 237.25,114.30 237.42,114.30 237.50,114.11 237.75,113.48 237.87,113.19 238.00,113.52 238.25,114.15 238.31,114.30 238.50,114.30 238.75,114.30 238.82,114.23 239.00,113.73 239.25,112.98 239.40,112.60 239.50,112.88 239.71,113.48 240.00,114.30 240.25,114.30 241.00,114.30 241.25,113.55 241.50,112.80 241.75,113.55 242.00,114.30 252.50,114.30 252.75,114.30 253.00,113.63 253.25,112.80 253.40,112.30 253.50,112.63 253.75,113.47 254.00,114.30 254.25,114.30 255.37,114.30 255.50,113.77 255.66,113.13 255.75,113.50 255.95,114.30 256.75,114.30 257.00,114.07 257.12,113.95 257.25,114.08 257.45,114.30 257.75,114.30 259.00,114.30 259.11,114.30 259.25,113.94 259.40,113.57 259.50,113.84 259.68,114.30 261.36,114.30 261.50,114.19 261.75,113.98 261.91,114.09 262.00,114.14 262.17,113.86 262.25,113.65 262.50,114.01 262.61,114.18 262.75,114.01 263.00,113.41 263.25,113.84 263.47,114.30 267.50,114.30 267.75,114.30 268.00,113.27 268.24,111.97 268.40,111.20 268.50,111.72 268.57,112.10 268.75,113.01 268.91,113.84 269.00,114.30 270.25,114.30 270.47,114.19 270.75,113.28 270.91,113.80 271.00,113.97 271.25,113.50 271.50,114.06 271.60,113.96 271.70,113.33 271.88,111.79 272.00,110.00 272.23,106.42 272.30,105.70 272.50,108.57 272.75,112.15 272.90,114.30 273.00,114.30 273.20,113.99 273.50,112.44 273.70,111.20 274.00,113.06 274.20,114.30 274.28,114.10 274.50,113.29 274.65,112.61 274.73,112.96 275.00,114.13 275.14,114.30 275.42,114.30 275.50,114.11 275.75,113.42 276.00,113.91 276.16,114.30 278.50,114.30 278.75,114.30 279.00,111.47 279.22,107.92 279.40,105.80 279.50,107.22 279.59,108.44 279.70,110.08 279.95,113.56 280.04,113.48 280.25,114.00 280.37,114.30 281.75,114.30 282.00,114.30 282.25,113.27 282.35,112.88 282.50,113.51 282.69,114.30 282.75,114.30 282.90,114.30 283.00,113.89 283.19,113.10 283.42,114.00 283.49,114.19 283.75,113.77 284.00,113.55 284.19,113.91 284.34,114.30 284.75,114.30 285.00,113.66 285.12,113.27 285.25,113.67 285.45,114.30 285.81,114.30 286.00,113.65 286.07,113.42 286.25,114.06 286.32,114.30 287.00,114.30 287.25,113.74 287.32,113.54 287.50,113.61 287.58,113.04 287.75,113.54 287.93,114.30 288.00,114.04 288.25,112.53 288.50,113.47 288.65,113.82 288.75,113.93 289.00,113.43 289.10,113.28 289.25,113.75 289.43,114.30 291.00,114.30 291.24,114.24 291.50,113.86 291.63,113.65 291.75,113.85 292.00,114.25 292.25,114.30 295.25,114.30 295.50,113.72 295.59,113.46 295.75,113.90 295.89,114.30 297.25,114.30 297.36,114.30 297.50,113.94 297.69,113.45 298.00,114.23 298.25,114.30 299.75,114.30 299.99,114.26 300.25,113.27 300.50,113.94 300.61,114.30 311.25,114.30 311.38,114.30 311.50,114.18 311.75,113.92 312.00,114.15 312.16,114.30 312.25,114.30 312.50,113.63 312.61,113.31 312.75,113.71 312.95,114.30 315.75,114.30 315.83,114.30 316.00,114.06 316.25,113.67 316.50,113.99 316.71,114.30 317.00,114.30 317.50,114.30 317.75,110.34 318.00,106.38 318.10,104.80 318.25,107.17 318.50,111.13 318.70,114.30 319.00,114.30 321.25,114.30 321.47,114.24 321.71,113.65 321.84,113.43 322.00,113.17 322.21,113.65 322.41,114.30 322.50,114.30 322.75,114.30 322.94,114.30 323.00,114.19 323.25,113.75 323.36,113.56 323.50,113.80 323.75,114.23 323.99,114.27 324.25,113.64 324.50,114.22 324.75,114.30 324.90,114.30 325.00,113.83 325.25,112.67 325.50,111.50 325.75,112.67 326.00,113.83 326.10,114.30 326.90,114.30 327.00,113.75 327.25,112.38 327.50,111.00 327.75,112.38 328.00,113.75 328.10,114.30 329.50,114.30 329.75,113.10 330.00,112.00 330.25,113.15 330.50,114.30 333.25,114.30 333.50,114.30 333.75,113.99 334.00,114.23 334.18,114.30 334.25,114.08 334.50,113.26 334.75,113.98 334.86,114.30 339.00,114.30 339.20,114.21 339.50,113.79 339.62,113.59 339.75,113.81 340.00,114.24 340.25,114.30 342.00,114.30 342.07,114.30 342.25,113.94 342.50,113.38 342.75,113.85 342.97,114.30 344.00,114.30 344.13,114.30 344.25,113.87 344.41,113.32 344.50,113.65 344.68,114.30 344.75,114.30 346.75,114.30 347.00,114.10 347.23,113.87 347.50,114.14 347.66,114.30 347.75,114.30 348.75,114.30 348.96,114.19 349.25,113.41 349.50,113.95 349.63,114.30 349.75,114.30 351.43,114.30 351.50,114.21 351.75,113.90 351.84,113.79 352.00,114.00 352.25,114.30 352.50,114.30 357.25,114.30 357.48,114.25 357.75,113.64 357.84,113.41 358.00,113.79 358.21,114.30 359.08,114.30 359.25,114.02 359.48,113.64 359.75,114.10 359.87,114.30 360.00,114.30 361.00,114.30 361.16,114.30 361.25,113.92 361.44,113.12 361.50,113.40 361.71,114.30 365.00,114.30 365.22,114.22 365.50,113.62 365.61,113.35 365.75,113.68 366.00,114.29 366.14,114.30 366.25,114.06 366.45,113.60 366.75,114.27 366.88,114.30 367.00,114.09 367.25,113.64 367.33,113.50 367.50,113.80 367.75,114.25 368.00,114.30 368.25,114.30 368.32,114.30 368.50,113.91 368.59,113.71 368.75,114.04 368.87,114.30 369.00,114.30 369.25,114.30 369.36,114.30 369.50,114.18 369.75,113.95 370.00,114.15 370.17,114.30 370.25,114.30 370.33,114.30 370.50,113.99 370.60,113.80 370.75,114.09 370.86,114.30 371.00,114.30 371.40,114.30 371.50,114.16 371.70,113.88 372.00,114.30 373.00,114.30 373.23,114.25 373.50,113.71 373.61,113.48 373.75,113.79 373.91,114.14 373.99,114.12 374.23,113.64 374.50,114.21 374.75,114.30 374.84,114.30 375.00,113.76 375.17,113.20 375.25,113.47 375.50,114.30 377.25,114.30 377.44,114.15 377.75,113.50 377.81,113.34 378.00,113.81 378.19,114.30 378.25,114.30 378.75,114.30" fill="none" stroke="#2a2a2a" stroke-width="0.90" stroke-linejoin="round"/><text x="362.4" y="102.5" font-size="7.0" letter-spacing="1.4">t8</text><text x="362.4" y="113.3" font-size="7.0" letter-spacing="1.4">t0</text></g>
<g><path d="M35.5 143.6H186.0V251.3" fill="none" stroke="#5c5c5c" stroke-width="1.00"/><path d="M36.0 143.1V253.1" fill="none" stroke="#6e6e6e" stroke-width="1.20"/><path d="M36.0 250.7H186.5" fill="none" stroke="#6e6e6e" stroke-width="1.20"/><path d="M73.3 250.7V253.1" stroke="#333" stroke-width="0.8"/><path d="M110.7 250.7V253.1" stroke="#333" stroke-width="0.8"/><path d="M148.0 250.7V253.1" stroke="#333" stroke-width="0.8"/><path d="M185.3 250.7V253.1" stroke="#333" stroke-width="0.8"/><path d="M33.3 143.6H36.0" stroke="#333" stroke-width="0.8"/><text x="31.0" y="147.4" font-size="6.2" text-anchor="end">1.2 x 10<tspan font-size="4.0" dy="-2.7">5</tspan></text><path d="M33.3 159.1H36.0" stroke="#333" stroke-width="0.8"/><text x="31.0" y="161.8" font-size="6.2" text-anchor="end">1.0 x 10<tspan font-size="4.0" dy="-2.7">5</tspan></text><path d="M33.3 174.6H36.0" stroke="#333" stroke-width="0.8"/><text x="31.0" y="177.3" font-size="6.2" text-anchor="end">8.0 x 10<tspan font-size="4.0" dy="-2.7">4</tspan></text><path d="M33.3 190.1H36.0" stroke="#333" stroke-width="0.8"/><text x="31.0" y="192.8" font-size="6.2" text-anchor="end">6.0 x 10<tspan font-size="4.0" dy="-2.7">4</tspan></text><path d="M33.3 205.6H36.0" stroke="#333" stroke-width="0.8"/><text x="31.0" y="208.3" font-size="6.2" text-anchor="end">4.0 x 10<tspan font-size="4.0" dy="-2.7">4</tspan></text><path d="M33.3 221.1H36.0" stroke="#333" stroke-width="0.8"/><text x="31.0" y="223.8" font-size="6.2" text-anchor="end">2.0 x 10<tspan font-size="4.0" dy="-2.7">4</tspan></text><path d="M33.3 236.6H36.0" stroke="#333" stroke-width="0.8"/><text x="30.5" y="239.1" font-size="6.2" text-anchor="end">0</text><text x="36.3" y="261.2" font-size="6.2" text-anchor="middle">0</text><text x="73.6" y="261.2" font-size="6.2" text-anchor="middle">5</text><text x="111.0" y="261.2" font-size="6.2" text-anchor="middle">10</text><text x="148.3" y="261.2" font-size="6.2" text-anchor="middle">15</text><text x="185.6" y="261.2" font-size="6.2" text-anchor="middle">20</text><text x="111.4" y="268.0" font-size="6.6" text-anchor="middle">Time (min)</text><text x="0" y="0" font-size="6.6" text-anchor="middle" transform="translate(5.8 197.9) rotate(-90)">Counts</text><text x="182.7" y="153.2" font-size="7.3" text-anchor="end" style="stroke-width:0.05px">m/z 217.0176</text><polyline points="33.30,236.60 35.64,236.60 35.80,236.49 36.02,236.35 36.30,236.54 36.39,236.60 36.55,236.60 37.80,236.60 38.04,236.58 38.30,236.20 38.38,236.08 38.55,236.32 38.73,236.60 48.05,236.60 48.30,235.90 48.55,236.47 48.80,236.60 48.90,236.60 49.05,233.20 49.30,227.53 49.50,223.00 49.80,229.80 50.05,229.00 50.27,231.14 50.55,234.70 50.70,236.04 50.80,236.28 50.93,236.60 51.05,236.60 51.13,236.60 51.30,236.41 51.49,236.19 51.80,236.54 51.96,236.60 52.05,236.50 52.30,236.19 52.39,236.08 52.55,236.27 52.80,236.57 53.05,236.60 53.38,236.60 53.55,236.26 53.75,235.74 53.81,235.72 54.05,236.15 54.18,235.96 54.24,236.05 54.30,236.14 54.55,236.51 54.80,236.60 55.14,236.60 55.30,236.50 55.53,236.35 55.80,235.93 55.92,236.11 56.05,236.00 56.14,235.77 56.25,235.47 56.55,236.24 56.69,236.60 57.05,236.60 57.28,236.52 57.55,235.47 57.63,235.11 57.80,235.80 57.99,235.92 58.30,236.46 58.37,236.28 58.51,235.52 58.77,234.43 58.90,234.00 58.99,234.39 59.05,234.65 59.23,235.41 59.30,235.73 59.38,236.08 59.50,236.11 59.77,236.52 60.05,236.60 60.97,236.60 61.05,236.43 61.30,235.81 61.55,236.21 61.74,236.60 63.55,236.60 63.70,236.60 63.80,236.43 64.05,236.00 64.30,236.44 64.39,236.60 64.55,236.60 65.80,236.60 66.01,236.57 66.30,236.36 66.44,236.25 66.55,236.34 66.80,236.55 66.86,236.60 73.41,236.60 73.55,236.46 73.71,236.31 73.80,236.40 74.01,236.60 74.30,236.60 74.80,236.60 75.00,236.49 75.26,236.02 75.52,236.60 75.80,236.60 76.05,236.60 76.30,236.40 76.46,236.25 76.55,236.33 76.80,236.54 76.86,236.60 76.93,236.60 77.05,236.43 77.30,236.08 77.55,236.43 77.67,236.60 77.80,236.60 78.55,236.60 78.75,232.86 79.05,214.13 79.20,202.90 79.30,210.39 79.40,217.80 79.55,229.11 79.65,236.37 79.78,236.25 80.05,236.49 80.17,236.37 80.30,236.05 80.55,236.49 80.80,236.60 84.95,236.60 85.05,236.37 85.30,235.71 85.55,236.22 85.70,236.51 85.80,235.73 86.05,233.57 86.30,231.40 86.55,233.57 86.80,235.73 86.90,236.60 89.80,236.60 90.00,236.56 90.30,236.37 90.50,236.34 90.63,235.95 90.80,235.05 91.05,233.50 91.30,234.53 91.55,235.83 91.70,236.60 93.97,236.60 94.05,236.48 94.30,236.13 94.55,236.48 94.63,236.60 96.17,236.60 96.30,236.37 96.55,235.89 96.80,236.30 96.97,236.60 98.05,236.60 98.30,236.60 98.55,236.29 98.78,235.90 99.05,236.33 99.21,236.60 100.36,236.60 100.55,236.33 100.62,236.22 100.80,236.48 100.88,236.60 101.05,236.60 101.46,236.60 101.55,236.45 101.69,236.16 101.80,236.30 101.97,235.98 102.05,236.07 102.30,236.57 102.55,236.60 105.55,236.60 105.77,236.54 106.05,236.09 106.14,235.93 106.30,236.21 106.52,236.60 107.87,236.60 108.05,236.44 108.30,236.23 108.55,236.45 108.72,236.60 109.63,236.60 109.80,236.31 109.90,236.14 110.05,236.41 110.16,236.60 110.30,236.60 110.80,236.60 111.02,236.55 111.30,236.20 111.40,236.05 111.55,236.26 111.79,236.60 112.05,236.60 112.30,236.60 112.50,236.51 112.78,236.10 113.05,236.58 113.30,236.60 113.80,236.60 114.05,236.42 114.20,236.29 114.30,236.38 114.55,236.59 114.80,236.60 115.30,236.60 115.40,236.60 115.55,234.75 115.80,231.67 116.00,229.20 116.30,232.90 116.55,235.98 116.73,236.60 116.80,236.50 117.00,236.22 117.28,236.60 120.70,236.60 120.80,236.42 121.05,235.89 121.30,236.28 121.48,236.60 121.55,236.60 123.55,236.60 123.80,236.41 124.04,236.18 124.30,236.43 124.47,236.60 124.55,236.60 126.80,236.60 127.05,236.58 127.30,235.79 127.55,236.47 127.80,236.60 129.80,236.60 130.05,235.85 130.15,235.47 130.30,236.06 130.44,236.60 130.55,236.60 131.24,236.60 131.30,236.49 131.54,236.05 131.64,235.89 131.80,235.88 131.90,236.15 132.05,236.00 132.30,235.06 132.55,235.93 132.73,236.60 132.80,236.60 133.00,225.87 133.30,172.25 133.40,150.80 133.55,182.98 133.80,236.60 134.05,226.17 134.30,215.74 134.42,210.90 134.50,207.40 134.60,211.57 134.71,216.16 134.80,219.91 135.00,228.42 135.20,228.00 135.30,229.43 135.55,233.02 135.80,236.60 136.44,236.60 136.55,236.48 136.80,236.20 136.89,236.10 137.05,236.28 137.30,236.55 137.55,236.60 138.30,236.60 138.55,236.32 138.70,236.14 138.80,236.26 139.05,236.55 139.30,232.07 139.55,226.40 139.70,223.00 139.80,225.27 140.05,230.93 140.16,233.31 140.30,236.35 140.47,236.05 140.55,236.18 140.79,236.60 141.05,236.60 141.80,236.60 142.00,236.32 142.30,234.95 142.55,233.30 142.80,234.40 143.05,235.78 143.20,236.60 143.30,236.44 143.55,235.69 143.80,236.41 143.87,236.60 144.80,236.60 144.90,236.60 145.05,235.10 145.30,232.60 145.50,230.60 145.80,233.60 146.05,236.10 146.30,236.60 146.38,236.60 146.55,235.71 146.69,234.98 146.80,235.58 146.99,236.60 147.05,236.60 147.17,236.60 147.30,236.32 147.54,235.81 147.80,236.38 147.90,236.60 148.05,236.24 148.29,235.29 148.55,236.35 148.61,236.60 148.80,236.60 148.93,236.60 149.05,236.06 149.22,235.26 149.30,235.60 149.51,236.60 152.40,236.60 152.55,236.35 152.78,235.97 153.05,236.41 153.16,236.60 154.05,236.60 154.21,236.60 154.30,236.50 154.55,236.22 154.65,236.11 154.80,236.28 154.91,236.41 155.05,236.42 155.22,236.27 155.30,236.37 155.52,236.60 163.19,236.60 163.30,236.47 163.55,236.13 163.80,236.39 163.98,236.60 165.30,236.60 165.52,236.55 165.80,236.08 165.90,236.25 166.05,236.24 166.16,236.13 166.30,236.39 166.41,236.60 171.30,236.60 171.55,236.60 171.80,236.23 172.05,236.57 172.30,236.60 172.69,236.60 172.80,236.41 173.05,235.89 173.30,236.22 173.52,236.60 173.80,236.60 174.16,236.60 174.30,236.32 174.55,235.76 174.80,236.24 174.97,236.60 175.05,236.60 175.26,236.52 175.55,235.96 175.80,236.36 175.92,236.60 182.30,236.60 182.55,236.60 182.73,236.29 182.80,236.14 182.88,235.99 183.05,236.28 183.17,236.36 183.30,236.48 183.43,236.60 184.30,236.60 184.38,236.60 184.55,236.27 184.80,235.79 185.05,236.26 185.23,236.60 185.30,236.60 186.00,236.60" fill="none" stroke="#2a2a2a" stroke-width="0.90" stroke-linejoin="round"/><polyline points="36.00,246.40 39.19,246.40 39.25,246.33 39.50,246.03 39.58,245.94 39.75,246.14 39.97,246.40 40.25,246.40 41.25,246.40 41.49,246.38 41.75,245.91 42.00,246.24 42.10,246.40 46.50,246.40 46.75,246.40 47.00,245.95 47.25,246.28 47.32,246.40 48.90,246.40 49.00,244.58 49.25,240.04 49.50,235.50 49.75,240.04 50.00,244.58 50.10,246.40 51.18,246.40 51.25,246.33 51.50,246.03 51.75,246.24 51.91,246.40 52.00,246.40 54.66,246.40 54.75,246.30 55.00,246.01 55.07,245.94 55.25,246.15 55.47,246.40 56.00,246.40 56.20,246.13 56.50,244.80 56.75,243.20 57.00,244.27 57.20,245.33 57.40,245.47 57.50,245.00 57.75,243.60 57.91,244.10 58.00,244.53 58.24,245.66 58.40,246.15 58.50,246.29 58.58,246.40 58.75,246.40 60.00,246.40 60.25,246.24 60.36,246.15 60.50,246.26 60.67,246.40 62.75,246.40 62.95,246.27 63.21,245.72 63.47,246.40 63.75,246.40 64.25,246.40 64.50,246.14 64.70,245.89 65.00,246.28 65.09,246.40 65.25,246.40 65.36,246.40 65.50,246.25 65.74,246.00 66.00,246.28 66.11,246.40 66.25,246.40 66.75,246.40 66.90,246.40 67.00,246.14 67.15,245.74 67.25,245.99 67.41,246.40 67.50,246.40 72.18,246.40 72.25,246.25 72.43,245.90 72.50,246.04 72.68,246.40 73.00,246.40 73.22,246.37 73.50,246.15 73.66,246.01 73.75,246.09 74.00,246.31 74.10,246.40 79.50,246.40 79.75,245.45 80.00,244.50 80.15,245.09 80.25,245.45 80.50,245.60 80.74,246.04 80.91,246.07 81.00,245.91 81.13,245.66 81.25,245.89 81.50,246.37 81.75,246.40 84.00,246.40 84.25,246.40 84.50,246.06 84.75,245.61 85.00,246.04 85.21,246.40 85.50,246.40 86.87,246.40 87.00,246.29 87.22,246.11 87.50,246.35 87.56,246.21 87.75,245.60 88.00,244.80 88.25,245.60 88.43,246.18 88.50,246.24 88.75,245.67 88.88,245.97 89.00,246.24 89.07,246.24 89.19,246.15 89.25,246.20 89.49,246.40 92.43,246.40 92.50,246.28 92.73,245.90 93.00,246.36 93.25,246.40 94.13,246.40 94.25,246.12 94.45,245.68 94.75,246.35 95.00,246.40 97.75,246.40 98.00,246.40 98.25,246.16 98.50,246.37 98.75,246.40 103.75,246.40 103.95,246.36 104.25,246.14 104.50,246.34 104.57,246.40 104.75,246.40 106.17,246.40 106.25,246.26 106.45,245.92 106.73,246.40 107.00,246.40 110.75,246.40 111.00,246.11 111.22,245.80 111.50,246.21 111.64,246.40 112.41,246.40 112.50,246.31 112.70,246.12 112.99,246.40 113.25,245.98 113.34,245.81 113.50,246.09 113.67,246.40 115.25,246.40 115.40,246.40 115.50,245.27 115.75,242.43 116.00,239.60 116.25,242.43 116.50,245.27 116.60,246.40 116.75,246.40 122.25,246.40 122.40,246.40 122.50,246.18 122.71,245.72 123.00,246.37 123.25,246.40 127.43,246.40 127.50,246.32 127.75,246.06 127.86,245.95 128.00,246.10 128.25,246.36 128.50,246.40 130.00,246.40 130.20,246.30 130.50,245.80 130.75,246.21 130.85,246.40 131.00,246.32 131.22,246.17 131.50,246.37 131.75,246.40 132.50,246.40 132.72,246.35 132.80,246.24 133.00,244.76 133.25,242.52 133.40,241.70 133.50,242.48 133.75,244.44 134.00,246.40 134.25,246.40 134.40,246.33 134.50,245.83 134.73,244.42 135.00,243.00 135.17,243.97 135.25,244.42 135.50,245.83 135.60,246.40 135.75,246.40 140.50,246.40 140.75,246.40 141.00,246.16 141.24,245.88 141.50,246.18 141.69,246.40 142.50,246.40 142.56,246.40 142.75,245.89 142.82,245.68 143.00,246.16 143.09,246.40 149.50,246.40 149.58,246.40 149.75,246.09 149.88,245.85 150.00,246.08 150.18,246.40 150.25,246.40 151.00,246.40 151.15,246.40 151.25,246.30 151.50,246.02 151.75,246.20 151.96,246.40 154.50,246.40 154.73,246.37 155.00,245.87 155.25,246.26 155.33,246.40 165.75,246.40 165.99,246.39 166.25,246.14 166.50,246.33 166.58,246.40 167.00,246.40 167.12,246.40 167.25,246.12 167.40,245.81 167.50,246.03 167.68,246.40 167.75,246.40 168.50,246.40 168.75,246.40 169.00,246.22 169.18,246.06 169.25,246.12 169.50,246.34 169.57,246.40 169.75,246.40 170.86,246.40 171.00,246.12 171.16,245.81 171.25,245.98 171.46,246.40 172.00,246.40 172.20,246.31 172.50,245.88 172.75,246.31 173.00,246.40 175.12,246.40 175.25,246.15 175.46,245.74 175.75,246.30 176.00,246.40 179.00,246.40 179.10,246.40 179.25,246.15 179.50,245.74 179.75,246.17 179.89,246.40 179.95,246.34 180.25,245.96 180.50,246.20 180.66,246.40 180.75,246.40 182.25,246.40 182.36,246.40 182.50,246.08 182.63,245.79 182.75,246.07 182.89,246.40 183.00,246.40 186.00,246.40" fill="none" stroke="#2a2a2a" stroke-width="0.90" stroke-linejoin="round"/><text x="170.9" y="230.7" font-size="7.0" letter-spacing="1.4">t2</text><text x="170.9" y="244.0" font-size="7.0" letter-spacing="1.4">t0</text></g>
<g><path d="M228.5 143.4H378.8V251.1" fill="none" stroke="#5c5c5c" stroke-width="1.00"/><path d="M229.0 142.9V252.9" fill="none" stroke="#6e6e6e" stroke-width="1.20"/><path d="M229.0 250.5H379.3" fill="none" stroke="#6e6e6e" stroke-width="1.20"/><path d="M266.4 250.5V252.9" stroke="#333" stroke-width="0.8"/><path d="M303.8 250.5V252.9" stroke="#333" stroke-width="0.8"/><path d="M341.2 250.5V252.9" stroke="#333" stroke-width="0.8"/><path d="M378.6 250.5V252.9" stroke="#333" stroke-width="0.8"/><path d="M226.3 143.4H229.0" stroke="#333" stroke-width="0.8"/><text x="226.2" y="147.2" font-size="6.2" text-anchor="end">1.0 x 10<tspan font-size="4.0" dy="-2.7">5</tspan></text><path d="M226.3 161.9H229.0" stroke="#333" stroke-width="0.8"/><text x="226.2" y="164.6" font-size="6.2" text-anchor="end">8.0 x 10<tspan font-size="4.0" dy="-2.7">4</tspan></text><path d="M226.3 180.5H229.0" stroke="#333" stroke-width="0.8"/><text x="226.2" y="183.2" font-size="6.2" text-anchor="end">6.0 x 10<tspan font-size="4.0" dy="-2.7">4</tspan></text><path d="M226.3 199.0H229.0" stroke="#333" stroke-width="0.8"/><text x="226.2" y="201.7" font-size="6.2" text-anchor="end">4.0 x 10<tspan font-size="4.0" dy="-2.7">4</tspan></text><path d="M226.3 217.6H229.0" stroke="#333" stroke-width="0.8"/><text x="226.2" y="220.3" font-size="6.2" text-anchor="end">2.0 x 10<tspan font-size="4.0" dy="-2.7">4</tspan></text><path d="M226.3 236.1H229.0" stroke="#333" stroke-width="0.8"/><text x="225.0" y="238.6" font-size="6.2" text-anchor="end">0</text><text x="229.3" y="261.0" font-size="6.2" text-anchor="middle">0</text><text x="266.7" y="261.0" font-size="6.2" text-anchor="middle">5</text><text x="304.1" y="261.0" font-size="6.2" text-anchor="middle">10</text><text x="341.5" y="261.0" font-size="6.2" text-anchor="middle">15</text><text x="378.9" y="261.0" font-size="6.2" text-anchor="middle">20</text><text x="304.5" y="267.8" font-size="6.6" text-anchor="middle">Time (min)</text><text x="0" y="0" font-size="6.6" text-anchor="middle" transform="translate(198.7 197.8) rotate(-90)">Counts</text><text x="375.5" y="153.3" font-size="7.3" text-anchor="end" style="stroke-width:0.05px">m/z 217.0176</text><polyline points="226.30,236.10 231.55,236.10 231.68,236.10 231.80,235.82 232.04,235.29 232.30,235.87 232.41,236.10 237.55,236.10 237.79,236.09 238.05,235.58 238.17,235.34 238.30,235.59 238.55,236.10 238.80,236.10 239.90,236.10 240.05,235.77 240.30,235.22 240.40,235.00 240.55,235.33 240.80,235.88 240.90,236.10 244.19,236.10 244.30,235.96 244.55,235.59 244.80,235.87 244.98,236.10 245.05,236.10 245.80,236.10 246.05,236.10 246.23,234.99 246.30,234.40 246.55,232.19 246.70,231.00 246.80,231.85 246.89,232.61 247.05,233.98 247.30,236.10 249.05,236.10 249.28,236.07 249.55,235.67 249.67,235.48 249.80,235.69 250.05,236.08 250.30,236.10 250.80,236.10 250.90,236.10 251.05,235.45 251.30,234.37 251.50,233.50 251.80,234.80 252.05,235.88 252.30,236.10 256.37,236.10 256.55,235.80 256.77,235.44 257.05,235.90 257.17,236.10 257.30,236.10 264.73,236.10 264.80,236.04 265.05,235.80 265.15,235.70 265.30,235.84 265.55,236.08 265.80,236.10 269.80,236.10 270.05,236.10 270.30,235.71 270.47,235.44 270.55,235.57 270.80,235.96 270.89,236.10 271.05,236.10 272.05,236.10 272.25,234.26 272.55,223.19 272.70,219.50 272.80,223.19 273.05,231.85 273.15,231.00 273.30,231.85 273.55,233.98 273.80,236.10 274.04,236.08 274.30,235.67 274.55,236.03 274.80,236.10 276.20,236.10 276.30,235.42 276.55,233.71 276.80,232.00 276.91,232.76 277.05,233.71 277.21,234.82 277.30,235.42 277.40,235.81 277.51,236.10 277.80,236.10 278.05,236.10 278.30,236.10 278.55,234.60 278.71,233.61 278.80,233.10 278.90,232.50 279.05,233.38 279.18,234.16 279.30,234.90 279.38,235.38 279.50,235.75 279.57,235.73 279.80,235.94 279.87,236.01 279.97,235.83 280.05,235.62 280.28,234.98 280.55,235.71 280.69,236.10 280.80,236.10 280.95,236.10 281.05,235.83 281.22,235.37 281.30,235.59 281.48,236.10 282.90,236.10 283.05,235.32 283.19,234.59 283.30,234.03 283.48,233.00 283.55,233.26 283.80,234.55 284.05,235.84 284.30,236.10 284.50,235.94 284.79,235.14 285.05,236.03 285.30,236.10 287.05,236.10 287.19,235.89 287.30,235.64 287.39,235.45 287.48,235.63 287.55,235.76 287.70,235.99 287.76,236.10 287.97,236.10 288.05,235.92 288.30,235.37 288.37,235.22 288.55,235.63 288.76,236.10 289.05,236.10 289.30,236.10 289.50,235.99 289.80,235.44 290.00,235.00 290.30,235.66 290.50,236.10 291.99,236.10 292.05,235.95 292.30,235.27 292.55,235.76 292.70,236.10 292.80,236.10 293.30,236.10 293.50,235.93 293.80,234.97 294.05,235.76 294.15,236.05 294.30,235.94 294.49,235.82 294.55,235.86 294.80,236.03 294.90,236.10 295.05,236.10 295.14,236.10 295.30,235.62 295.52,234.96 295.80,235.78 295.91,236.10 296.01,236.03 296.30,235.53 296.55,235.97 296.62,236.10 297.05,236.10 297.19,236.10 297.26,235.69 297.53,234.73 297.63,234.42 297.80,235.06 298.05,236.02 298.30,236.10 299.05,236.10 299.12,236.10 299.30,235.67 299.45,235.33 299.55,235.57 299.78,236.10 300.05,236.10 300.19,236.10 300.30,235.94 300.55,235.53 300.80,235.89 300.94,236.10 305.30,236.10 305.40,236.10 305.55,235.79 305.67,235.53 305.80,235.81 305.94,236.10 307.65,236.10 307.80,235.98 308.05,235.76 308.30,235.95 308.49,219.83 308.80,199.50 309.05,219.83 309.25,236.10 309.55,236.10 312.05,236.10 312.30,236.10 312.55,235.98 312.71,235.87 312.80,235.90 313.05,235.70 313.15,235.79 313.30,235.95 313.43,236.10 313.55,236.10 319.80,236.10 319.96,236.10 320.05,235.97 320.30,235.52 320.55,235.82 320.74,236.10 320.80,236.10 324.12,236.10 324.30,235.94 324.50,235.76 324.80,236.02 324.88,236.10 325.05,236.10 325.30,235.79 325.41,235.64 325.55,235.84 325.74,236.10 325.80,236.10 326.05,185.04 326.20,154.40 326.30,174.83 326.55,225.89 326.63,235.45 326.70,235.60 326.80,234.02 326.93,231.35 327.05,228.81 327.30,223.60 327.55,228.81 327.80,234.02 327.90,236.10 328.05,236.10 329.55,236.10 329.78,236.08 330.05,235.84 330.20,235.70 330.30,235.80 330.55,236.03 330.62,236.10 330.80,236.10 331.80,236.10 332.05,236.10 332.30,234.13 332.55,231.67 332.70,230.20 332.80,231.18 333.05,233.64 333.13,234.41 333.30,235.82 333.42,236.10 335.30,236.10 335.50,235.89 335.80,234.84 336.00,234.00 336.21,234.90 336.30,235.26 336.50,235.50 336.66,235.31 336.80,235.56 337.00,235.92 337.10,235.95 337.30,235.60 337.55,235.93 337.66,236.10 337.80,236.10 338.05,235.47 338.11,235.28 338.30,235.87 338.37,236.10 338.55,236.10 339.30,236.10 339.47,236.02 339.55,235.91 339.78,235.14 340.00,234.50 340.10,234.81 340.30,235.46 340.39,235.73 340.50,235.84 340.76,236.10 341.05,236.10 341.23,236.10 341.30,235.98 341.55,235.58 341.66,235.41 341.80,235.63 342.05,236.02 342.30,236.10 347.47,236.10 347.55,236.03 347.80,235.77 348.05,235.94 348.23,236.10 348.94,236.10 349.05,235.85 349.25,235.37 349.55,236.07 349.80,236.10 354.22,236.10 354.30,235.98 354.55,235.63 354.80,235.97 354.90,236.10 355.05,236.10 357.80,236.10 358.05,236.10 358.30,235.66 358.55,235.94 358.66,236.10 358.80,236.10 359.05,236.10 359.19,236.10 359.30,235.90 359.55,235.47 359.63,235.33 359.80,235.63 360.05,236.06 360.30,236.10 367.30,236.10 367.46,236.10 367.55,235.99 367.80,235.69 368.05,236.00 368.13,236.10 368.30,236.10 368.55,236.10 368.80,235.72 369.00,235.38 369.30,235.89 369.43,236.10 369.80,236.10 369.91,236.10 370.05,235.96 370.25,235.77 370.55,236.07 370.80,236.10 375.05,236.10 375.26,236.01 375.53,235.50 375.79,236.10 378.80,236.10" fill="none" stroke="#2a2a2a" stroke-width="0.90" stroke-linejoin="round"/><polyline points="229.00,246.50 233.41,246.50 233.50,246.29 233.75,245.66 234.00,246.18 234.14,246.50 234.25,246.50 239.35,246.50 239.50,246.34 239.75,246.07 240.00,246.35 240.14,246.50 240.25,246.41 240.47,246.09 240.75,246.50 241.00,246.50 241.40,246.50 241.50,245.90 241.75,244.40 241.90,243.50 242.00,244.10 242.25,245.60 242.40,246.50 244.75,246.50 245.00,246.50 245.16,245.28 245.25,244.54 245.50,242.47 245.60,241.80 245.75,242.98 245.87,243.95 246.00,244.93 246.20,246.50 246.50,246.50 249.00,246.50 249.20,246.21 249.50,244.75 249.75,243.00 250.00,244.17 250.25,245.62 250.40,246.49 250.50,246.38 250.75,246.02 251.00,246.25 251.21,246.50 251.50,246.50 254.50,246.50 254.75,245.96 254.88,245.67 255.00,245.95 255.24,246.50 255.50,246.50 265.25,246.50 265.50,246.50 265.75,246.16 266.00,246.47 266.25,246.50 269.75,246.50 269.99,246.46 270.25,245.79 270.50,246.36 270.75,246.50 272.00,246.50 272.10,246.50 272.25,244.27 272.50,240.57 272.70,237.60 272.85,239.75 273.00,242.05 273.16,244.36 273.25,245.76 273.47,246.50 274.25,246.50 274.40,246.50 274.50,246.38 274.75,246.09 274.84,245.99 275.00,246.17 275.24,245.63 275.50,246.22 275.63,246.50 275.75,246.50 276.00,243.67 276.25,240.12 276.40,238.00 276.50,239.42 276.75,242.96 277.00,246.50 277.25,246.50 277.39,246.50 277.50,246.31 277.75,245.87 277.84,245.72 277.99,245.97 278.25,245.77 278.50,244.67 278.56,244.08 278.75,242.37 278.90,241.00 279.00,241.92 279.24,244.11 279.50,245.10 279.75,246.47 280.00,245.82 280.19,245.27 280.25,245.46 280.50,246.21 280.60,246.50 281.75,246.50 282.00,246.24 282.15,246.07 282.25,246.18 282.50,246.45 282.75,246.50 285.00,246.50 285.23,246.47 285.50,246.15 285.63,245.99 285.75,246.15 286.00,246.47 286.25,246.50 286.48,246.45 286.72,245.69 287.00,244.99 287.25,246.23 287.50,246.50 288.25,246.50 288.33,246.50 288.50,246.01 288.63,245.64 288.75,246.00 288.83,246.23 288.92,246.27 289.00,246.06 289.19,245.58 289.50,246.36 289.75,246.50 290.25,246.50 290.43,246.50 290.50,246.36 290.74,245.86 291.00,246.42 291.25,246.50 291.50,246.50 291.75,246.50 292.00,245.70 292.17,245.08 292.25,245.40 292.50,246.32 292.75,246.50 293.63,246.50 293.75,246.17 294.00,245.50 294.06,245.33 294.25,245.83 294.39,246.21 294.50,246.34 294.75,245.92 295.00,246.22 295.19,246.50 295.25,246.50 295.90,246.50 296.00,246.18 296.15,245.71 296.25,246.02 296.40,246.50 296.50,246.50 296.75,246.50 297.00,246.34 297.20,246.17 297.50,245.72 297.61,245.91 297.75,246.27 297.84,246.50 300.75,246.50 301.00,246.28 301.17,246.12 301.25,246.20 301.50,246.43 301.58,246.50 301.75,246.50 308.00,246.50 308.20,245.64 308.50,241.35 308.75,236.20 309.00,239.63 309.25,243.92 309.40,246.50 309.50,246.50 312.25,246.50 312.40,246.50 312.50,246.43 312.69,246.25 312.75,246.25 313.00,246.26 313.08,246.30 313.25,246.42 313.36,246.50 319.00,246.50 319.25,246.32 319.39,246.20 319.50,246.28 319.75,246.49 320.00,246.50 323.75,246.50 324.00,246.28 324.17,246.13 324.25,246.20 324.50,246.42 324.59,246.50 325.40,246.50 325.50,245.35 325.75,242.47 326.00,239.60 326.25,242.47 326.50,245.35 326.60,246.50 326.70,245.94 327.00,243.15 327.25,239.80 327.50,242.03 327.59,243.02 327.75,244.82 327.88,246.30 328.00,246.50 329.00,246.50 329.16,246.50 329.25,246.36 329.50,245.88 329.75,246.22 329.92,246.50 330.00,246.50 330.25,246.09 330.33,245.95 330.50,246.27 330.62,246.50 332.00,246.50 332.10,246.50 332.25,245.62 332.50,244.17 332.70,243.00 333.00,244.75 333.25,246.21 333.50,246.50 336.25,246.50 336.35,246.50 336.50,246.23 336.63,245.99 336.75,246.20 336.92,246.50 337.00,246.50 337.25,246.27 337.48,245.99 337.75,246.31 337.91,246.50 339.25,246.50 339.47,246.45 339.75,246.10 340.00,246.45 340.25,246.50 344.39,246.50 344.50,246.37 344.75,246.03 345.00,246.31 345.16,246.50 345.25,246.50 348.00,246.50 348.25,246.31 348.48,246.10 348.75,246.36 348.91,246.50 349.00,246.34 349.23,245.77 349.50,246.43 349.75,246.50 350.25,246.50 350.39,246.50 350.50,246.36 350.73,246.05 351.00,246.42 351.06,246.50 351.25,246.50 352.00,246.50 352.22,246.45 352.47,246.11 352.68,246.43 352.75,246.38 353.00,245.92 353.09,245.75 353.25,246.04 353.50,246.50 353.75,246.50 355.00,246.50 355.24,246.49 355.50,246.28 355.60,246.19 355.75,246.32 355.97,246.50 369.25,246.50 369.46,246.39 369.75,245.63 370.00,246.23 370.10,246.50 370.25,246.50 370.43,246.50 370.50,246.33 370.75,245.60 371.00,246.07 371.18,246.50 371.25,246.50 372.07,246.50 372.25,246.26 372.36,246.11 372.50,246.31 372.64,246.50 373.00,246.50 373.13,246.50 373.25,246.21 373.46,245.71 373.75,246.40 374.00,246.50 378.75,246.50" fill="none" stroke="#2a2a2a" stroke-width="0.90" stroke-linejoin="round"/><text x="362.4" y="232.0" font-size="7.0" letter-spacing="1.4">t8</text><text x="362.4" y="243.8" font-size="7.0" letter-spacing="1.4">t0</text></g>
<g><path d="M35.5 281.8H186.0V389.8" fill="none" stroke="#5c5c5c" stroke-width="1.00"/><path d="M36.0 281.3V391.6" fill="none" stroke="#6e6e6e" stroke-width="1.20"/><path d="M36.0 389.2H186.5" fill="none" stroke="#6e6e6e" stroke-width="1.20"/><path d="M73.3 389.2V391.6" stroke="#333" stroke-width="0.8"/><path d="M110.7 389.2V391.6" stroke="#333" stroke-width="0.8"/><path d="M148.0 389.2V391.6" stroke="#333" stroke-width="0.8"/><path d="M185.3 389.2V391.6" stroke="#333" stroke-width="0.8"/><path d="M33.3 281.8H36.0" stroke="#333" stroke-width="0.8"/><text x="31.0" y="285.6" font-size="6.2" text-anchor="end">4.0 x 10<tspan font-size="4.0" dy="-2.7">6</tspan></text><path d="M33.3 304.6H36.0" stroke="#333" stroke-width="0.8"/><text x="31.0" y="307.3" font-size="6.2" text-anchor="end">3.0 x 10<tspan font-size="4.0" dy="-2.7">6</tspan></text><path d="M33.3 327.5H36.0" stroke="#333" stroke-width="0.8"/><text x="31.0" y="330.2" font-size="6.2" text-anchor="end">2.0 x 10<tspan font-size="4.0" dy="-2.7">6</tspan></text><path d="M33.3 350.3H36.0" stroke="#333" stroke-width="0.8"/><text x="31.0" y="353.0" font-size="6.2" text-anchor="end">1.0 x 10<tspan font-size="4.0" dy="-2.7">6</tspan></text><path d="M33.3 373.1H36.0" stroke="#333" stroke-width="0.8"/><text x="30.5" y="375.6" font-size="6.2" text-anchor="end">0</text><text x="36.3" y="399.7" font-size="6.2" text-anchor="middle">0</text><text x="73.6" y="399.7" font-size="6.2" text-anchor="middle">5</text><text x="111.0" y="399.7" font-size="6.2" text-anchor="middle">10</text><text x="148.3" y="399.7" font-size="6.2" text-anchor="middle">15</text><text x="185.6" y="399.7" font-size="6.2" text-anchor="middle">20</text><text x="111.4" y="406.5" font-size="6.6" text-anchor="middle">Time (min)</text><text x="0" y="0" font-size="6.6" text-anchor="middle" transform="translate(5.8 336.3) rotate(-90)">Counts</text><text x="182.7" y="289.6" font-size="7.3" text-anchor="end" style="stroke-width:0.05px">m/z 537.1614</text><polyline points="33.30,373.10 75.05,373.10 75.28,373.05 75.55,372.31 75.80,372.89 75.88,373.10 80.70,373.10 80.80,373.01 81.05,372.76 81.30,372.95 81.47,373.10 87.80,373.10 88.05,372.52 88.12,372.35 88.30,372.79 88.43,373.10 90.55,373.10 90.78,373.07 91.05,372.66 91.22,372.38 91.30,372.52 91.55,372.94 91.65,373.10 91.80,373.10 91.95,373.10 92.05,372.80 92.25,372.21 92.55,373.09 92.80,373.10 105.48,373.10 105.55,373.03 105.80,372.71 106.05,372.94 106.20,373.10 106.30,373.10 108.39,373.10 108.55,372.74 108.64,372.53 108.80,372.89 108.89,373.10 109.05,373.10 109.14,373.10 109.30,372.66 109.44,372.26 109.55,372.55 109.75,373.10 111.80,373.10 111.97,373.10 112.05,372.90 112.30,372.24 112.55,372.84 112.66,373.10 116.45,373.10 116.55,372.98 116.80,372.70 116.88,372.62 117.05,372.81 117.26,372.96 117.54,372.26 117.80,373.05 118.05,373.10 118.44,373.10 118.55,372.92 118.80,372.46 119.05,372.79 119.25,373.10 119.33,373.10 119.55,372.79 119.69,372.59 119.80,372.74 120.05,373.08 120.30,373.10 120.80,373.10 121.05,372.87 121.12,372.80 121.30,372.98 121.42,373.10 126.11,373.10 126.30,372.97 126.55,372.80 126.80,372.96 126.92,373.05 127.00,372.83 127.18,372.56 127.30,372.80 127.44,373.10 132.30,373.10 132.54,373.09 132.80,372.79 132.89,372.68 133.05,372.88 133.23,373.10 136.37,373.10 136.55,372.59 136.66,372.27 136.80,372.65 136.96,373.10 137.05,373.10 137.30,372.81 137.38,372.70 137.55,372.92 137.68,373.10 137.80,373.10 140.05,373.10 140.14,373.10 140.30,372.80 140.55,372.29 140.80,372.70 141.02,373.10 141.80,373.10 141.90,373.10 142.05,373.00 142.26,372.85 142.55,373.05 142.62,373.10 145.05,373.10 145.20,345.53 145.30,332.25 145.50,291.40 145.61,313.25 145.80,352.68 145.90,368.85 145.98,369.52 146.05,370.12 146.30,372.25 146.40,373.10 146.55,372.79 146.76,372.27 147.05,372.99 147.30,373.10 148.30,373.10 148.38,373.10 148.55,372.74 148.72,372.38 148.80,372.55 149.05,372.16 149.30,372.91 149.55,372.96 149.68,372.87 149.80,372.93 150.02,372.82 150.30,373.05 150.36,373.10 150.71,373.10 150.80,372.91 151.05,372.32 151.12,372.44 151.30,372.79 151.37,372.67 151.55,372.97 151.62,373.10 151.80,373.10 153.55,373.10 153.80,373.10 153.89,373.01 154.05,372.74 154.22,372.45 154.30,372.58 154.55,373.01 154.80,373.10 155.05,373.10 155.21,373.10 155.30,372.83 155.41,372.34 155.55,372.60 155.72,372.37 155.78,372.23 156.05,372.46 156.14,372.22 156.21,372.03 156.30,372.27 156.55,372.94 156.80,373.10 158.20,373.10 158.30,372.91 158.55,372.33 158.80,372.71 159.00,373.10 159.30,373.10 160.36,373.10 160.55,372.88 160.75,372.64 161.05,372.99 161.14,373.10 161.30,373.10 165.40,373.10 165.55,372.76 165.75,372.32 166.05,373.00 166.30,373.10 168.30,373.10 168.42,373.10 168.55,372.97 168.72,372.80 168.80,372.88 169.03,373.10 171.80,373.10 171.87,373.10 172.05,372.86 172.20,372.65 172.30,372.78 172.54,373.10 177.80,373.10 178.05,373.10 178.30,372.84 178.42,372.71 178.55,372.85 178.79,373.10 181.80,373.10 182.01,373.06 182.30,372.83 182.43,372.71 182.55,372.83 182.80,373.06 183.05,373.10 184.30,373.10 184.42,373.10 184.55,372.81 184.80,372.23 185.05,372.81 185.18,373.10 185.30,373.10 186.00,373.10" fill="none" stroke="#2a2a2a" stroke-width="0.90" stroke-linejoin="round"/><polyline points="36.00,382.80 44.10,382.80 44.25,382.35 44.50,381.60 44.70,381.00 45.00,381.90 45.25,382.65 45.50,382.80 100.50,382.80 100.72,382.76 101.00,382.40 101.09,382.27 101.25,382.49 101.46,382.80 102.50,382.80 102.70,382.73 103.00,382.39 103.25,382.69 103.33,382.80 103.50,382.80 105.00,382.80 105.21,382.77 105.50,382.51 105.75,382.67 105.91,382.80 106.00,382.80 110.50,382.80 110.75,382.80 111.00,382.39 111.07,382.29 111.25,382.59 111.38,382.80 111.50,382.80 116.00,382.80 116.25,382.80 116.50,382.53 116.68,382.35 116.75,382.43 117.00,382.69 117.11,382.80 124.00,382.80 124.10,382.80 124.25,382.63 124.49,382.36 124.75,382.65 124.89,382.80 126.75,382.80 126.90,382.80 127.00,382.64 127.18,382.35 127.25,382.46 127.47,382.80 131.75,382.80 132.00,382.68 132.22,382.56 132.50,382.72 132.66,382.80 136.00,382.80 136.25,382.80 136.50,382.38 136.66,382.07 136.75,382.26 137.00,382.76 137.25,382.80 139.00,382.80 139.08,382.80 139.25,382.54 139.35,382.39 139.50,382.61 139.63,382.80 139.75,382.80 141.50,382.80 141.75,382.80 142.00,382.19 142.07,382.01 142.25,382.43 142.40,382.80 142.50,382.80 142.75,382.80 142.90,382.80 143.00,382.54 143.17,382.09 143.25,382.31 143.43,382.80 143.50,382.80 153.14,382.80 153.25,382.73 153.50,382.57 153.57,382.53 153.75,382.64 154.00,382.79 154.25,382.80 157.40,382.80 157.50,382.60 157.71,382.20 158.00,382.76 158.25,382.53 158.37,382.39 158.50,382.53 158.74,382.80 159.00,382.80 159.44,382.80 159.50,382.76 159.75,382.56 160.00,382.69 160.16,382.80 162.42,382.80 162.50,382.65 162.75,382.15 163.00,382.64 163.08,382.80 163.25,382.80 165.10,382.80 165.25,382.53 165.45,382.18 165.75,382.72 166.00,382.80 169.10,382.80 169.25,382.45 169.40,382.09 169.50,382.32 169.70,382.80 170.17,382.80 170.25,382.45 170.40,381.81 170.50,381.28 170.75,382.19 170.83,382.10 170.90,382.21 171.00,382.38 171.25,382.79 171.50,382.80 175.50,382.80 175.72,382.78 176.00,382.63 176.10,382.56 176.25,382.66 176.47,382.80 176.75,382.80 176.99,382.75 177.25,381.62 177.32,381.29 177.50,382.09 177.66,382.80 180.00,382.80 180.25,382.80 180.50,382.32 180.57,382.14 180.75,382.56 180.85,382.80 186.00,382.80" fill="none" stroke="#2a2a2a" stroke-width="0.90" stroke-linejoin="round"/><text x="170.9" y="368.3" font-size="7.0" letter-spacing="1.4">t2</text><text x="170.9" y="379.7" font-size="7.0" letter-spacing="1.4">t0</text></g>
<g><path d="M228.5 282.0H378.8V389.9" fill="none" stroke="#5c5c5c" stroke-width="1.00"/><path d="M229.0 281.5V391.7" fill="none" stroke="#6e6e6e" stroke-width="1.20"/><path d="M229.0 389.3H379.3" fill="none" stroke="#6e6e6e" stroke-width="1.20"/><path d="M266.4 389.3V391.7" stroke="#333" stroke-width="0.8"/><path d="M303.8 389.3V391.7" stroke="#333" stroke-width="0.8"/><path d="M341.2 389.3V391.7" stroke="#333" stroke-width="0.8"/><path d="M378.6 389.3V391.7" stroke="#333" stroke-width="0.8"/><path d="M226.3 282.0H229.0" stroke="#333" stroke-width="0.8"/><text x="226.2" y="285.8" font-size="6.2" text-anchor="end">1.0 x 10<tspan font-size="4.0" dy="-2.7">5</tspan></text><path d="M226.3 300.2H229.0" stroke="#333" stroke-width="0.8"/><text x="226.2" y="302.9" font-size="6.2" text-anchor="end">8.0 x 10<tspan font-size="4.0" dy="-2.7">4</tspan></text><path d="M226.3 318.4H229.0" stroke="#333" stroke-width="0.8"/><text x="226.2" y="321.1" font-size="6.2" text-anchor="end">6.0 x 10<tspan font-size="4.0" dy="-2.7">4</tspan></text><path d="M226.3 336.5H229.0" stroke="#333" stroke-width="0.8"/><text x="226.2" y="339.2" font-size="6.2" text-anchor="end">4.0 x 10<tspan font-size="4.0" dy="-2.7">4</tspan></text><path d="M226.3 354.7H229.0" stroke="#333" stroke-width="0.8"/><text x="226.2" y="357.4" font-size="6.2" text-anchor="end">2.0 x 10<tspan font-size="4.0" dy="-2.7">4</tspan></text><path d="M226.3 372.9H229.0" stroke="#333" stroke-width="0.8"/><text x="225.0" y="375.4" font-size="6.2" text-anchor="end">0</text><text x="229.3" y="399.8" font-size="6.2" text-anchor="middle">0</text><text x="266.7" y="399.8" font-size="6.2" text-anchor="middle">5</text><text x="304.1" y="399.8" font-size="6.2" text-anchor="middle">10</text><text x="341.5" y="399.8" font-size="6.2" text-anchor="middle">15</text><text x="378.9" y="399.8" font-size="6.2" text-anchor="middle">20</text><text x="304.5" y="406.6" font-size="6.6" text-anchor="middle">Time (min)</text><text x="0" y="0" font-size="6.6" text-anchor="middle" transform="translate(198.7 336.4) rotate(-90)">Counts</text><text x="375.5" y="289.5" font-size="7.3" text-anchor="end" style="stroke-width:0.05px">m/z 537.1614</text><polyline points="226.30,372.90 237.55,372.90 237.80,372.90 238.05,372.11 238.30,371.32 238.40,371.00 238.55,371.48 238.80,372.27 239.00,372.90 239.30,372.90 242.20,372.90 242.30,372.83 242.55,372.65 242.62,372.61 242.80,372.73 243.04,372.90 243.30,372.90 243.55,372.59 243.72,372.37 243.80,372.47 244.05,372.79 244.13,372.90 244.30,372.90 254.30,372.90 254.54,372.89 254.80,372.71 255.05,372.89 255.30,372.90 262.80,372.90 263.00,372.85 263.30,372.59 263.44,372.45 263.55,372.56 263.80,372.82 263.88,372.90 264.05,372.90 277.80,372.90 277.91,372.90 278.05,372.76 278.17,372.64 278.30,372.77 278.44,372.90 302.05,372.90 302.30,372.69 302.43,372.56 302.55,372.68 302.77,372.90 303.05,372.90 311.37,372.90 311.55,372.74 311.72,372.58 311.80,372.65 312.05,372.88 312.30,372.90 313.05,372.90 313.27,372.86 313.55,372.47 313.80,372.86 314.05,372.90 314.30,372.72 314.50,372.54 314.80,372.81 314.90,372.90 315.80,372.90 315.90,372.90 316.05,372.73 316.29,372.46 316.55,372.75 316.69,372.90 323.80,372.90 324.05,372.90 324.30,372.74 324.38,372.68 324.55,372.81 324.67,372.90 336.14,372.90 336.30,372.69 336.40,372.56 336.55,372.75 336.67,372.90 336.80,372.90 337.90,372.90 338.00,341.18 338.30,288.30 338.55,341.18 338.70,368.82 338.80,369.63 339.05,371.67 339.20,372.90 339.30,372.90 339.42,372.90 339.55,372.69 339.80,372.27 340.05,372.68 340.18,372.90 340.30,372.90 340.80,372.90 340.95,372.88 341.05,372.79 341.28,372.52 341.55,372.76 341.68,372.90 341.80,372.90 342.05,372.90 342.30,372.90 342.55,372.69 342.63,372.61 342.80,372.48 342.99,371.93 343.05,372.01 343.30,372.63 343.41,372.90 363.37,372.90 363.55,372.77 363.63,372.71 363.80,372.84 363.88,372.90 364.05,372.90 364.80,372.90 364.89,372.90 365.05,372.72 365.27,372.46 365.55,372.79 365.64,372.90 368.38,372.90 368.55,372.51 368.63,372.31 368.80,372.70 368.88,372.90 369.05,372.90 369.49,372.90 369.55,372.83 369.80,372.56 370.05,372.57 370.12,372.41 370.30,372.66 370.44,372.90 370.55,372.90 375.05,372.90 375.30,372.90 375.55,372.67 375.71,372.49 375.80,372.60 376.05,372.88 376.30,372.90 378.80,372.90" fill="none" stroke="#2a2a2a" stroke-width="0.90" stroke-linejoin="round"/><polyline points="229.00,382.80 233.50,382.80 233.71,382.74 234.00,382.42 234.15,382.24 234.25,382.37 234.50,382.69 234.59,382.80 234.75,382.80 237.50,382.80 237.75,382.80 238.00,381.87 238.25,380.70 238.40,380.00 238.50,380.47 238.75,381.63 238.83,381.99 239.00,382.45 239.13,382.19 239.25,382.44 239.43,382.80 239.50,382.80 239.90,382.80 240.00,382.40 240.25,381.35 240.40,380.80 240.50,381.20 240.57,381.47 240.75,382.20 240.87,382.70 241.00,382.80 242.92,382.80 243.00,382.71 243.25,382.46 243.32,382.39 243.50,382.57 243.72,382.80 251.00,382.80 251.25,382.80 251.50,382.60 251.67,382.44 251.75,382.51 252.00,382.75 252.25,382.80 260.25,382.80 260.44,382.76 260.75,382.57 261.00,382.75 261.06,382.80 262.75,382.80 262.89,382.80 263.00,382.62 263.25,382.20 263.31,382.09 263.50,382.40 263.73,382.80 273.50,382.80 273.75,382.80 274.00,382.41 274.19,382.03 274.50,382.64 274.58,382.80 274.75,382.80 281.36,382.80 281.50,382.70 281.71,382.54 282.00,382.75 282.07,382.80 283.00,382.80 283.25,382.80 283.50,382.65 283.66,382.53 283.75,382.60 284.00,382.79 284.19,382.68 284.49,382.21 284.75,382.72 285.00,382.80 285.57,382.80 285.75,382.49 285.89,382.25 286.00,382.44 286.21,382.78 286.50,382.42 286.62,382.25 286.75,382.43 287.00,382.79 287.25,382.80 293.50,382.80 293.63,382.80 293.75,382.63 294.00,382.23 294.25,382.54 294.43,382.80 297.00,382.80 297.07,382.80 297.25,382.38 297.39,382.05 297.50,382.32 297.70,382.80 301.25,382.80 301.50,382.80 301.75,382.28 301.88,381.97 302.00,382.27 302.22,382.80 302.50,381.85 302.58,381.54 302.75,382.23 302.89,382.80 303.00,382.62 303.17,382.29 303.25,382.43 303.44,382.80 303.75,382.80 303.98,382.72 304.25,381.76 304.50,382.57 304.56,382.80 304.75,382.80 305.07,382.80 305.25,382.64 305.36,382.54 305.49,382.40 305.68,381.91 305.75,382.12 305.90,382.54 305.99,382.80 306.50,382.80 306.70,382.57 307.00,381.40 307.25,380.00 307.50,380.93 307.75,382.10 307.90,382.80 308.00,382.80 308.90,382.80 309.00,382.34 309.25,381.19 309.40,380.50 309.50,380.96 309.75,382.11 309.90,382.80 312.25,382.80 312.47,382.75 312.75,382.32 313.00,382.60 313.13,382.80 313.25,382.80 313.50,382.80 313.75,382.80 314.00,382.14 314.17,381.66 314.25,381.89 314.50,382.62 314.56,382.80 314.75,382.80 315.00,382.80 315.25,382.45 315.33,382.31 315.50,382.60 315.62,382.80 315.75,382.80 315.84,382.80 316.00,382.72 316.10,382.67 316.25,381.94 316.50,380.67 316.69,379.60 316.75,379.87 316.88,380.55 317.00,381.20 317.13,381.89 317.25,382.53 317.38,382.80 317.50,382.80 317.68,382.80 317.75,382.69 318.00,382.22 318.25,382.60 318.37,382.80 324.25,382.80 324.45,382.76 324.75,382.52 325.00,382.76 325.25,382.80 329.00,382.80 329.25,382.66 329.38,382.59 329.50,382.65 329.75,382.80 330.00,382.80 330.50,382.80 330.71,382.76 331.00,382.53 331.13,382.40 331.25,382.51 331.50,382.75 331.75,382.80 335.50,382.80 335.68,382.80 335.75,382.68 336.00,382.16 336.25,382.51 336.41,382.80 336.50,382.80 342.25,382.80 342.43,382.80 342.50,382.73 342.75,382.46 343.00,382.72 343.08,382.80 343.25,382.80 345.39,382.80 345.50,382.69 345.75,382.42 345.82,382.35 346.00,382.53 346.25,382.80 346.50,382.80 347.00,382.80 347.25,382.26 347.35,382.00 347.50,382.37 347.67,382.80 349.00,382.80 349.25,382.65 349.35,382.59 349.50,382.69 349.68,382.80 349.75,382.80 354.50,382.80 354.62,382.80 354.75,382.45 354.88,382.32 355.00,382.56 355.13,382.54 355.25,382.61 355.50,382.80 355.75,382.80 360.00,382.80 360.17,382.80 360.25,382.75 360.50,382.62 360.59,382.57 360.75,382.66 361.00,382.80 361.25,382.80 368.00,382.80 368.17,382.80 368.25,382.74 368.50,382.53 368.75,382.68 368.92,382.80 373.50,382.80 373.74,382.79 374.00,382.46 374.17,382.23 374.25,382.33 374.50,382.66 374.60,382.80 378.75,382.80" fill="none" stroke="#2a2a2a" stroke-width="0.90" stroke-linejoin="round"/><text x="362.4" y="367.5" font-size="7.0" letter-spacing="1.4">t8</text><text x="362.4" y="380.1" font-size="7.0" letter-spacing="1.4">t0</text></g>
<g><path d="M35.5 420.5H186.0V528.6" fill="none" stroke="#5c5c5c" stroke-width="1.00"/><path d="M36.0 420.0V530.4" fill="none" stroke="#6e6e6e" stroke-width="1.20"/><path d="M36.0 528.0H186.5" fill="none" stroke="#6e6e6e" stroke-width="1.20"/><path d="M73.3 528.0V530.4" stroke="#333" stroke-width="0.8"/><path d="M110.7 528.0V530.4" stroke="#333" stroke-width="0.8"/><path d="M148.0 528.0V530.4" stroke="#333" stroke-width="0.8"/><path d="M185.3 528.0V530.4" stroke="#333" stroke-width="0.8"/><path d="M33.3 420.5H36.0" stroke="#333" stroke-width="0.8"/><text x="31.0" y="424.3" font-size="6.2" text-anchor="end">1.0 x 10<tspan font-size="4.0" dy="-2.7">6</tspan></text><path d="M33.3 439.1H36.0" stroke="#333" stroke-width="0.8"/><text x="31.0" y="441.8" font-size="6.2" text-anchor="end">8.0 x 10<tspan font-size="4.0" dy="-2.7">5</tspan></text><path d="M33.3 457.7H36.0" stroke="#333" stroke-width="0.8"/><text x="31.0" y="460.4" font-size="6.2" text-anchor="end">6.0 x 10<tspan font-size="4.0" dy="-2.7">5</tspan></text><path d="M33.3 476.3H36.0" stroke="#333" stroke-width="0.8"/><text x="31.0" y="479.0" font-size="6.2" text-anchor="end">4.0 x 10<tspan font-size="4.0" dy="-2.7">5</tspan></text><path d="M33.3 494.9H36.0" stroke="#333" stroke-width="0.8"/><text x="31.0" y="497.6" font-size="6.2" text-anchor="end">2.0 x 10<tspan font-size="4.0" dy="-2.7">5</tspan></text><path d="M33.3 513.5H36.0" stroke="#333" stroke-width="0.8"/><text x="30.5" y="516.0" font-size="6.2" text-anchor="end">0</text><text x="36.3" y="538.5" font-size="6.2" text-anchor="middle">0</text><text x="73.6" y="538.5" font-size="6.2" text-anchor="middle">5</text><text x="111.0" y="538.5" font-size="6.2" text-anchor="middle">10</text><text x="148.3" y="538.5" font-size="6.2" text-anchor="middle">15</text><text x="185.6" y="538.5" font-size="6.2" text-anchor="middle">20</text><text x="111.4" y="545.3" font-size="6.6" text-anchor="middle">Time (min)</text><text x="0" y="0" font-size="6.6" text-anchor="middle" transform="translate(5.8 475.1) rotate(-90)">Counts</text><text x="182.7" y="428.5" font-size="7.3" text-anchor="end" style="stroke-width:0.05px">m/z 441.0861</text><polyline points="33.30,513.50 43.55,513.50 43.80,513.50 44.05,511.65 44.11,511.17 44.30,512.58 44.42,513.50 48.90,513.50 49.05,512.83 49.30,511.70 49.50,510.80 49.80,512.15 50.05,513.27 50.30,513.50 56.80,513.50 56.95,513.50 57.05,488.27 57.30,454.62 57.40,437.80 57.55,463.03 57.70,488.27 57.80,505.09 58.01,510.86 58.30,512.73 58.45,513.50 58.55,513.50 58.70,513.50 58.80,513.00 59.05,511.75 59.30,510.50 59.52,511.60 59.79,512.01 59.90,512.64 60.05,513.48 60.30,513.50 60.89,513.50 61.05,512.77 61.18,512.19 61.30,512.75 61.47,513.50 68.30,513.50 68.41,513.50 68.55,512.74 68.73,511.74 68.80,512.13 69.05,513.50 69.30,513.50 70.80,513.50 71.01,513.31 71.30,512.03 71.40,511.51 71.55,512.28 71.77,513.36 72.05,512.35 72.17,511.87 72.30,512.39 72.55,513.40 72.80,513.50 73.11,513.50 73.30,511.93 73.50,510.32 73.80,512.85 73.88,513.50 80.55,513.50 80.79,513.46 81.05,512.44 81.14,512.07 81.30,512.72 81.49,513.50 82.30,513.50 82.55,511.94 82.71,510.86 82.80,511.48 83.05,513.18 83.30,513.50 83.48,513.50 83.55,513.07 83.80,511.58 83.86,511.22 84.05,512.36 84.24,513.50 85.24,513.50 85.30,512.91 85.40,511.97 85.55,510.28 85.80,507.98 85.90,506.60 86.05,508.67 86.30,512.12 86.40,512.58 86.55,511.21 86.80,508.92 86.90,508.00 87.05,509.37 87.30,511.67 87.50,513.50 87.80,513.50 88.30,513.50 88.55,511.53 88.80,513.38 89.05,513.50 91.05,513.50 91.21,513.50 91.30,512.94 91.55,511.44 91.61,511.05 91.80,512.16 92.02,513.50 95.43,513.50 95.55,513.02 95.80,512.03 96.05,513.05 96.16,513.00 96.30,512.23 96.40,511.67 96.55,512.51 96.72,513.50 96.80,513.50 97.05,513.50 97.30,511.27 97.55,513.02 97.80,513.50 98.90,513.50 99.05,512.60 99.30,511.10 99.40,510.50 99.47,510.90 99.55,511.40 99.80,512.63 99.88,512.42 100.05,512.86 100.30,513.50 100.49,512.08 100.55,511.63 100.78,509.75 100.90,509.00 101.05,510.12 101.30,512.00 101.50,513.50 101.80,513.50 102.03,513.34 102.30,510.33 102.55,512.62 102.63,513.50 102.80,513.50 115.30,513.50 115.55,511.96 115.65,511.18 115.80,512.32 115.95,513.50 116.05,513.50 120.05,513.50 120.30,511.13 120.42,509.98 120.55,511.27 120.78,513.50 120.95,513.50 121.05,512.91 121.30,511.39 121.55,512.81 121.67,513.50 121.75,512.85 122.04,510.02 122.30,513.16 122.55,513.50 122.68,513.50 122.80,512.99 123.03,512.04 123.30,513.19 123.37,513.50 123.55,513.50 126.55,513.50 126.80,513.50 127.05,510.68 127.11,509.94 127.30,512.13 127.42,513.50 128.05,513.50 128.29,513.41 128.55,510.24 128.68,508.55 128.80,510.01 129.05,513.17 129.30,513.50 132.80,513.50 133.00,513.10 133.30,510.84 133.55,512.29 133.71,513.50 133.80,513.50 136.55,513.50 136.75,510.27 136.85,509.51 137.05,511.73 137.12,511.10 137.30,511.93 137.55,513.39 137.80,513.50 139.11,513.50 139.30,512.51 139.40,511.97 139.55,512.76 139.69,513.50 142.05,513.50 142.30,513.48 142.55,510.03 142.80,512.95 143.05,513.50 144.05,513.50 144.18,513.50 144.30,512.67 144.53,511.05 144.80,512.92 144.88,513.50 145.05,513.50 145.28,513.39 145.55,511.18 145.79,512.57 145.92,511.65 146.05,509.27 146.30,512.44 146.37,513.50 147.05,513.50 147.18,513.50 147.30,511.53 147.52,508.02 147.80,512.50 147.86,513.50 148.20,513.50 148.30,499.55 148.55,457.70 148.80,485.60 149.00,513.50 151.05,513.50 151.16,513.50 151.30,512.47 151.47,511.21 151.55,511.85 151.77,513.50 153.05,513.50 153.17,513.50 153.30,512.79 153.44,512.03 153.55,512.61 153.72,513.50 153.80,513.50 156.55,513.50 156.77,513.29 157.05,511.35 157.16,510.46 157.30,511.51 157.55,513.46 157.80,513.50 158.30,513.50 158.47,513.50 158.55,512.58 158.80,509.83 158.88,508.93 159.05,510.80 159.29,513.50 159.55,513.50 161.05,513.50 161.13,513.50 161.30,511.71 161.46,510.05 161.55,511.05 161.78,513.50 162.55,513.50 162.80,513.50 163.05,512.71 163.27,511.95 163.55,512.94 163.71,513.50 169.68,513.50 169.80,512.90 170.01,511.88 170.30,513.25 170.55,513.50 170.65,513.50 170.80,512.89 171.05,511.66 171.30,512.53 171.53,513.50 172.30,513.50 172.36,513.50 172.55,512.43 172.73,511.42 172.80,511.81 173.05,513.21 173.30,513.50 173.52,513.29 173.80,511.30 174.05,513.18 174.24,513.50 174.30,513.06 174.55,511.26 174.63,510.70 174.80,511.95 175.01,513.50 175.11,513.50 175.30,512.10 175.50,510.61 175.80,512.78 175.90,513.50 177.17,513.50 177.30,511.50 177.45,509.20 177.55,510.82 177.72,513.50 177.80,513.50 178.30,513.50 178.36,513.50 178.55,512.24 178.62,511.79 178.80,513.03 178.87,513.50 179.05,513.50 179.41,513.50 179.55,511.33 179.76,508.06 179.89,510.06 180.05,512.09 180.11,511.56 180.19,510.86 180.30,511.81 180.49,513.50 182.80,513.50 183.05,510.67 183.12,509.73 183.30,512.16 183.40,513.49 183.55,513.50 186.00,513.50" fill="none" stroke="#2a2a2a" stroke-width="0.90" stroke-linejoin="round"/><polyline points="36.00,525.00 41.25,525.00 41.45,524.59 41.75,522.28 41.82,521.62 42.00,523.28 42.19,525.00 42.25,525.00 46.75,525.00 47.00,524.33 47.25,523.50 47.40,523.00 47.50,523.33 47.75,524.17 48.00,525.00 50.75,525.00 51.00,525.00 51.25,524.25 51.44,523.64 51.75,524.60 51.88,525.00 52.00,525.00 56.75,525.00 57.00,521.77 57.25,517.72 57.40,515.30 57.50,516.92 57.75,520.96 58.00,525.00 65.13,525.00 65.25,524.05 65.50,522.02 65.56,521.53 65.75,523.05 65.99,525.00 66.25,525.00 70.00,525.00 70.25,525.00 70.50,524.18 70.62,523.72 70.75,524.24 70.95,525.00 71.25,525.00 72.17,525.00 72.25,524.58 72.50,523.22 72.75,524.54 72.84,525.00 73.00,525.00 76.50,525.00 76.60,525.00 76.75,523.48 77.00,520.89 77.10,521.89 77.25,523.44 77.40,523.19 77.50,522.60 77.60,522.00 77.75,522.90 77.92,523.92 78.00,524.40 78.10,524.06 78.23,523.39 78.50,524.82 78.75,525.00 79.00,522.48 79.25,524.34 79.32,525.00 79.69,525.00 79.75,524.65 80.00,523.24 80.06,522.88 80.25,523.92 80.44,525.00 80.75,525.00 82.50,525.00 82.68,525.00 82.75,524.43 83.00,522.51 83.12,521.58 83.25,522.57 83.50,524.49 83.57,525.00 84.25,525.00 84.42,525.00 84.50,524.65 84.75,523.52 84.85,523.08 85.00,523.76 85.25,524.89 85.40,525.00 85.50,523.60 85.67,521.29 85.75,520.10 85.90,518.00 86.00,519.40 86.25,522.90 86.37,524.42 86.50,523.83 86.75,522.38 86.90,521.50 87.00,522.08 87.25,523.54 87.50,525.00 87.75,525.00 88.08,525.00 88.25,523.95 88.44,522.80 88.50,523.18 88.75,524.70 89.00,525.00 90.00,525.00 90.25,525.00 90.50,523.55 90.62,522.68 90.75,523.60 90.95,525.00 91.60,525.00 91.75,523.35 92.00,520.60 92.10,519.50 92.25,521.15 92.50,523.90 92.60,525.00 93.50,525.00 93.62,525.00 93.75,523.85 93.89,522.71 94.00,523.69 94.15,522.63 94.25,521.62 94.50,523.94 94.61,525.00 95.50,525.00 95.75,525.00 96.00,524.17 96.20,523.30 96.50,524.59 96.59,525.00 99.75,525.00 100.00,524.00 100.25,522.75 100.40,522.00 100.50,522.50 100.75,523.75 101.00,525.00 101.25,524.99 101.50,521.80 101.63,520.15 101.75,521.70 102.00,524.89 102.25,525.00 102.48,524.66 102.75,520.84 103.00,524.54 103.08,525.00 103.25,523.15 103.48,520.59 103.75,523.52 103.89,525.00 106.25,525.00 106.50,523.91 106.64,523.29 106.75,523.80 107.00,524.94 107.25,525.00 110.00,525.00 110.20,524.75 110.50,523.50 110.75,522.00 111.00,523.00 111.25,524.25 111.40,525.00 115.12,525.00 115.25,523.25 115.46,520.43 115.75,524.35 116.00,525.00 116.16,525.00 116.25,524.37 116.49,522.79 116.75,524.54 116.82,525.00 117.00,525.00 119.40,525.00 119.50,524.13 119.69,522.38 119.75,522.74 120.00,519.08 120.25,523.40 120.34,525.00 120.50,525.00 121.25,525.00 121.41,525.00 121.50,523.68 121.75,519.97 121.84,518.61 122.00,520.96 122.25,524.66 122.50,525.00 129.00,525.00 129.25,521.86 129.38,520.12 129.50,521.83 129.73,525.00 134.50,525.00 134.73,524.71 135.00,521.31 135.09,520.11 135.25,522.28 135.45,524.99 135.75,525.00 136.44,525.00 136.50,524.37 136.75,521.93 137.00,524.36 137.06,525.00 137.25,525.00 143.50,525.00 143.75,525.00 144.00,523.93 144.20,523.03 144.50,524.43 144.62,525.00 146.13,525.00 146.25,523.88 146.42,522.29 146.50,522.99 146.72,525.00 147.25,525.00 147.45,524.58 147.73,522.74 148.00,524.97 148.25,525.00 149.50,525.00 149.74,524.90 150.00,521.61 150.25,524.53 150.50,525.00 150.75,525.00 151.00,522.49 151.18,520.64 151.25,521.30 151.50,523.82 151.62,525.00 154.00,525.00 154.23,524.76 154.50,521.98 154.61,520.80 154.75,522.39 154.99,525.00 157.25,525.00 157.50,522.37 157.67,520.05 157.75,521.06 157.99,524.26 158.25,521.96 158.50,524.92 158.75,525.00 163.50,525.00 163.70,524.35 164.00,520.70 164.25,523.76 164.34,525.00 166.50,525.00 166.75,525.00 167.00,523.23 167.06,522.71 167.25,524.25 167.34,525.00 167.50,525.00 167.75,525.00 167.89,524.99 168.00,523.48 168.25,519.37 168.50,521.91 168.73,525.00 171.25,525.00 171.33,524.99 171.50,521.85 171.61,519.85 171.75,522.44 171.89,524.99 172.00,525.00 173.75,525.00 173.92,525.00 174.00,524.23 174.25,521.66 174.50,523.91 174.61,525.00 174.75,524.27 175.00,522.72 175.25,524.16 175.39,525.00 176.18,525.00 176.25,524.49 176.50,522.71 176.57,522.19 176.75,523.45 176.84,524.10 176.97,521.60 177.14,518.68 177.25,521.08 177.43,525.00 179.25,525.00 179.44,524.55 179.71,522.88 179.98,525.00 180.75,525.00 180.99,524.84 181.25,521.26 181.35,519.87 181.50,522.07 181.71,525.00 182.00,525.00 182.25,521.01 182.33,519.41 182.50,522.92 182.60,525.00 186.00,525.00" fill="none" stroke="#2a2a2a" stroke-width="0.90" stroke-linejoin="round"/><text x="170.9" y="504.8" font-size="7.0" letter-spacing="1.4">t2</text><text x="170.9" y="520.0" font-size="7.0" letter-spacing="1.4">t0</text></g>
<g><path d="M228.5 420.0H378.8V528.4" fill="none" stroke="#5c5c5c" stroke-width="1.00"/><path d="M229.0 419.5V530.2" fill="none" stroke="#6e6e6e" stroke-width="1.20"/><path d="M229.0 527.8H379.3" fill="none" stroke="#6e6e6e" stroke-width="1.20"/><path d="M266.4 527.8V530.2" stroke="#333" stroke-width="0.8"/><path d="M303.8 527.8V530.2" stroke="#333" stroke-width="0.8"/><path d="M341.2 527.8V530.2" stroke="#333" stroke-width="0.8"/><path d="M378.6 527.8V530.2" stroke="#333" stroke-width="0.8"/><path d="M226.3 420.0H229.0" stroke="#333" stroke-width="0.8"/><text x="226.2" y="423.8" font-size="6.2" text-anchor="end">2.0 x 10<tspan font-size="4.0" dy="-2.7">4</tspan></text><path d="M226.3 443.3H229.0" stroke="#333" stroke-width="0.8"/><text x="226.2" y="446.0" font-size="6.2" text-anchor="end">1.5 x 10<tspan font-size="4.0" dy="-2.7">4</tspan></text><path d="M226.3 466.6H229.0" stroke="#333" stroke-width="0.8"/><text x="226.2" y="469.3" font-size="6.2" text-anchor="end">1.0 x 10<tspan font-size="4.0" dy="-2.7">4</tspan></text><path d="M226.3 490.0H229.0" stroke="#333" stroke-width="0.8"/><text x="226.2" y="492.7" font-size="6.2" text-anchor="end">5.0 x 10<tspan font-size="4.0" dy="-2.7">3</tspan></text><path d="M226.3 513.3H229.0" stroke="#333" stroke-width="0.8"/><text x="225.0" y="515.8" font-size="6.2" text-anchor="end">0</text><text x="229.3" y="538.3" font-size="6.2" text-anchor="middle">0</text><text x="266.7" y="538.3" font-size="6.2" text-anchor="middle">5</text><text x="304.1" y="538.3" font-size="6.2" text-anchor="middle">10</text><text x="341.5" y="538.3" font-size="6.2" text-anchor="middle">15</text><text x="378.9" y="538.3" font-size="6.2" text-anchor="middle">20</text><text x="304.5" y="545.1" font-size="6.6" text-anchor="middle">Time (min)</text><text x="0" y="0" font-size="6.6" text-anchor="middle" transform="translate(198.7 474.7) rotate(-90)">Counts</text><text x="375.5" y="428.0" font-size="7.3" text-anchor="end" style="stroke-width:0.05px">m/z 441.0861</text><polyline points="226.30,513.30 236.05,513.30 236.20,512.93 236.30,511.04 236.37,509.40 236.52,505.41 236.66,502.95 236.80,499.52 237.05,493.00 237.30,497.51 237.55,503.15 237.80,508.79 238.00,503.32 238.10,502.22 238.20,500.00 238.30,502.10 238.55,491.10 238.61,488.09 238.70,483.70 238.80,488.63 238.90,493.32 239.05,500.97 239.30,513.30 240.05,513.30 240.30,513.30 240.55,512.64 240.61,512.45 240.80,513.05 240.88,513.30 241.05,513.30 241.20,513.30 241.29,509.15 241.55,498.77 241.69,493.05 241.80,488.40 241.88,491.64 242.05,498.77 242.19,504.54 242.30,509.15 242.40,512.63 242.54,513.09 242.74,513.24 243.05,512.51 243.30,512.99 243.43,513.30 243.55,513.30 244.17,513.30 244.30,513.16 244.55,512.84 244.80,513.09 244.99,513.30 245.05,513.30 245.30,512.34 245.45,511.60 245.55,512.09 245.80,513.30 246.05,513.30 246.55,513.30 246.69,513.30 246.80,512.92 247.05,511.91 247.30,512.68 247.47,513.30 247.55,513.30 247.89,513.30 248.05,512.96 248.30,512.38 248.55,512.87 248.75,513.30 249.05,513.30 249.30,512.85 249.45,512.54 249.55,512.74 249.69,513.03 249.80,512.65 249.90,512.27 250.03,510.57 250.30,506.03 250.37,504.85 250.50,502.40 250.70,506.03 250.80,507.85 251.05,508.30 251.22,506.76 251.30,505.80 251.50,508.36 251.76,511.61 251.90,512.70 252.05,512.81 252.21,512.08 252.30,512.53 252.46,513.30 252.55,513.30 252.80,513.30 253.05,513.30 253.30,512.73 253.51,512.11 253.80,512.93 253.93,513.30 254.05,513.30 254.30,511.52 254.51,509.99 254.80,512.15 254.96,513.30 255.05,513.30 255.19,513.30 255.30,512.36 255.37,511.75 255.47,510.91 255.55,511.58 255.67,512.60 255.75,512.93 255.97,513.30 256.05,513.30 256.30,510.90 256.55,509.10 256.70,507.70 256.80,508.63 257.05,510.97 257.18,512.13 257.24,512.66 257.54,511.44 257.80,512.79 257.90,513.30 258.05,513.30 259.30,513.30 259.53,513.23 259.80,512.46 260.05,513.23 260.19,513.30 260.30,513.09 260.55,512.59 260.64,512.41 260.79,512.71 261.05,511.97 261.17,511.60 261.30,512.18 261.55,513.30 261.80,513.30 262.04,513.25 262.30,512.33 262.50,512.90 262.61,512.44 262.80,510.90 263.00,509.30 263.30,511.70 263.50,511.07 263.60,510.54 263.80,512.66 263.86,513.30 264.30,513.30 264.51,513.13 264.79,511.93 264.87,512.35 265.05,511.88 265.23,510.63 265.30,511.13 265.55,512.98 265.80,513.30 267.55,513.30 267.80,513.17 268.05,509.60 268.30,507.00 268.38,507.98 268.55,510.15 268.65,511.38 268.80,512.91 269.05,512.18 269.16,512.37 269.30,511.98 269.43,510.71 269.52,510.65 269.71,508.99 269.80,508.00 270.05,510.65 270.30,513.30 270.80,513.30 270.97,513.30 271.05,512.64 271.12,512.06 271.25,510.95 271.52,512.84 271.80,513.14 271.94,513.30 272.05,513.30 273.30,513.30 273.55,513.30 273.64,512.72 273.80,511.32 273.88,510.65 274.05,511.70 274.17,511.98 274.30,512.43 274.54,513.30 274.80,512.74 275.04,512.12 275.30,512.81 275.40,513.07 275.49,509.99 275.55,505.41 275.80,497.90 275.89,494.44 276.00,490.20 276.18,496.94 276.30,501.75 276.55,511.38 276.80,513.30 277.05,513.30 277.30,512.66 277.38,512.41 277.55,512.90 277.69,513.30 277.80,513.30 279.05,513.30 279.30,511.70 279.55,509.30 279.80,510.90 279.95,512.14 280.05,512.84 280.24,512.42 280.30,512.62 280.51,512.27 280.65,511.85 280.80,512.46 280.96,513.12 281.05,512.99 281.23,512.35 281.30,512.60 281.50,512.19 281.60,511.99 281.80,512.77 281.94,513.30 282.05,513.30 282.55,513.30 282.80,513.30 283.05,512.42 283.26,511.51 283.55,512.72 283.69,513.30 283.80,513.30 284.05,513.30 284.30,512.20 284.55,513.19 284.80,513.30 285.30,513.30 285.52,513.19 285.78,512.16 286.04,513.30 286.19,513.30 286.30,512.88 286.55,511.79 286.80,512.65 286.97,513.30 287.62,513.30 287.80,512.86 288.04,512.27 288.30,512.90 288.46,513.30 289.05,513.30 289.22,513.30 289.30,513.15 289.48,512.82 289.55,512.94 289.75,513.30 289.99,513.09 290.30,512.17 290.38,511.88 290.55,512.52 290.69,513.05 290.76,512.81 291.05,511.57 291.30,512.64 291.44,513.30 291.55,513.30 291.80,513.30 292.02,513.19 292.27,512.39 292.52,513.30 296.30,513.30 296.55,511.99 296.80,512.93 296.88,513.30 297.05,513.30 297.30,512.28 297.37,511.98 297.55,512.71 297.69,513.30 297.80,513.30 299.55,513.30 299.71,513.30 299.80,512.89 300.02,511.90 300.30,513.18 300.55,513.30 300.80,513.30 301.05,512.46 301.17,512.01 301.30,512.48 301.52,513.30 301.80,513.30 302.30,513.30 302.38,513.30 302.55,512.91 302.68,512.62 302.80,512.90 302.98,513.30 303.05,513.30 303.30,511.60 303.55,509.47 303.70,508.20 303.80,509.05 304.05,511.18 304.30,513.30 306.30,513.30 306.55,512.95 306.67,512.75 306.80,512.98 306.99,513.30 308.42,513.30 308.55,513.13 308.80,512.77 309.05,513.07 309.22,513.30 310.80,513.30 310.91,513.30 311.05,513.07 311.21,512.80 311.30,512.94 311.52,513.30 313.90,513.30 314.05,512.84 314.30,512.00 314.55,512.63 314.77,513.30 315.05,513.30 315.73,513.30 315.80,513.10 316.05,512.45 316.15,512.19 316.30,512.58 316.55,513.24 316.80,513.30 320.55,513.30 320.80,512.69 320.89,512.44 321.00,512.72 321.22,511.46 321.30,510.75 321.55,508.20 321.80,509.90 322.05,512.02 322.20,513.30 322.30,513.30 327.05,513.30 327.26,513.25 327.55,512.91 327.69,512.73 327.80,512.88 328.05,513.22 328.11,513.30 328.30,512.99 328.55,512.43 328.80,512.86 329.03,513.30 329.30,513.30 329.55,512.43 329.71,511.80 329.80,512.13 330.05,513.09 330.30,513.30 336.30,513.30 336.55,513.30 336.80,512.39 336.88,512.09 337.05,512.73 337.20,513.30 337.30,513.08 337.53,512.41 337.80,513.22 338.05,513.30 339.30,513.30 339.43,513.30 339.55,513.00 339.73,512.54 339.80,512.71 340.03,512.77 340.17,512.52 340.30,512.77 340.55,513.26 340.80,513.30 341.00,502.97 341.30,451.35 341.40,430.70 341.55,461.68 341.80,513.30 342.30,513.30 342.44,513.30 342.55,512.77 342.77,511.73 342.86,512.17 343.05,512.31 343.25,511.69 343.55,512.95 343.63,513.30 343.80,513.30 346.05,513.30 346.17,513.30 346.30,512.88 346.51,512.20 346.80,513.11 346.86,513.30 347.30,513.30 347.50,513.21 347.75,512.84 348.00,513.30 348.30,513.30 348.68,513.30 348.80,513.05 349.05,512.53 349.30,513.07 349.41,513.30 349.55,513.30 350.05,513.30 350.16,513.30 350.30,513.04 350.48,512.72 350.55,512.84 350.80,513.29 350.99,513.20 351.30,512.75 351.39,512.59 351.55,512.88 351.79,513.30 354.38,513.30 354.55,512.92 354.67,512.67 354.80,512.96 354.95,513.30 355.18,513.30 355.30,512.78 355.44,512.14 355.55,512.61 355.70,513.30 355.80,513.30 356.05,513.06 356.24,512.85 356.55,513.18 356.66,513.30 356.80,513.30 357.80,513.30 358.02,513.16 358.30,512.00 358.39,511.60 358.55,512.35 358.75,513.30 359.05,513.30 360.46,513.30 360.55,513.12 360.77,512.67 361.05,513.26 361.30,513.30 363.05,513.30 363.30,513.30 363.55,511.59 363.80,513.01 364.05,513.30 364.47,513.30 364.55,513.16 364.80,512.61 364.86,512.63 365.05,512.61 365.11,512.38 365.23,512.81 365.30,513.07 365.36,513.30 367.05,513.30 367.30,513.30 367.55,512.88 367.75,512.47 368.05,513.08 368.16,513.30 371.80,513.30 371.92,513.30 372.05,512.63 372.19,511.93 372.30,512.53 372.45,513.30 372.92,513.30 373.05,512.91 373.24,512.35 373.30,512.52 373.55,513.26 373.80,513.30 374.80,513.30 375.05,513.30 375.30,512.00 375.55,513.02 375.80,513.30 378.80,513.30" fill="none" stroke="#2a2a2a" stroke-width="0.90" stroke-linejoin="round"/><polyline points="229.00,522.80 232.25,522.80 232.33,522.80 232.50,521.50 232.71,519.89 233.00,522.05 233.10,522.80 233.94,522.80 234.00,522.10 234.19,520.09 234.25,520.79 234.44,522.80 234.50,522.80 235.88,522.80 236.00,521.99 236.25,520.06 236.50,521.40 236.71,517.47 237.00,512.13 237.10,510.00 237.19,512.03 237.50,516.61 237.67,518.96 237.75,520.36 237.89,521.57 238.00,518.82 238.25,512.42 238.37,508.09 238.50,505.00 238.75,512.30 239.00,519.83 239.10,522.37 239.25,520.01 239.35,518.14 239.50,520.82 239.61,522.79 239.69,522.80 239.75,522.33 240.00,520.36 240.09,519.63 240.25,520.87 240.47,521.53 240.75,522.62 241.00,522.80 241.20,521.86 241.43,518.47 241.50,517.15 241.70,512.44 241.80,511.50 242.00,515.27 242.09,517.04 242.16,518.34 242.25,519.97 242.40,520.67 242.49,520.88 242.75,522.24 242.86,522.80 243.00,522.80 244.00,522.80 244.25,518.88 244.38,516.75 244.50,518.75 244.75,522.80 244.95,522.40 245.25,520.42 245.32,519.84 245.50,521.24 245.70,522.80 246.25,522.80 246.50,521.22 246.66,520.02 246.75,520.73 247.00,522.63 247.25,522.80 248.75,522.80 248.99,522.77 249.25,521.52 249.43,522.12 249.50,521.43 249.59,519.66 249.73,516.85 249.90,520.11 250.00,520.79 250.18,518.66 250.25,517.67 250.36,516.01 250.50,514.00 250.62,515.75 250.69,516.76 250.75,517.67 250.89,519.68 251.00,521.32 251.10,520.27 251.18,519.28 251.25,520.06 251.48,522.80 252.37,522.80 252.44,522.33 252.50,521.91 252.67,520.75 252.75,521.32 252.86,521.42 252.96,521.74 253.10,522.18 253.25,520.59 253.43,519.00 253.50,519.84 253.75,522.71 254.00,522.80 256.00,522.80 256.10,522.80 256.25,520.85 256.50,517.60 256.70,515.00 257.00,518.90 257.25,522.15 257.32,522.80 257.50,521.46 257.62,520.59 257.75,521.57 257.92,522.80 258.11,522.80 258.25,522.19 258.32,521.89 258.50,521.06 258.61,520.52 258.75,521.59 258.91,522.74 259.00,522.80 259.50,522.80 259.75,522.80 260.00,519.92 260.08,518.43 260.25,520.68 260.39,520.46 260.46,519.97 260.58,520.87 260.75,521.58 260.84,520.97 261.00,519.64 261.25,519.68 261.42,517.56 261.50,518.49 261.75,521.55 261.85,522.80 261.92,522.80 262.00,521.97 262.19,520.02 262.25,520.71 262.45,522.80 262.75,522.80 262.99,522.75 263.25,521.48 263.43,520.59 263.50,520.95 263.75,522.22 263.87,522.80 264.88,522.80 265.00,522.32 265.25,521.13 265.50,522.00 265.69,522.80 266.25,522.80 266.49,522.75 266.72,521.73 266.85,521.32 267.00,521.57 267.21,522.43 267.30,522.80 267.50,522.80 268.10,522.80 268.25,521.60 268.50,519.33 268.75,521.03 268.86,520.32 268.97,521.15 269.19,522.80 269.37,522.80 269.46,519.59 269.64,516.10 269.75,518.64 269.89,521.95 270.00,522.20 270.25,522.68 270.31,522.80 270.49,522.69 270.75,520.52 271.00,522.02 271.11,522.80 271.25,522.80 271.75,522.80 271.97,522.65 272.25,520.32 272.32,520.42 272.50,521.95 272.60,522.55 272.66,522.80 272.75,522.80 273.25,522.80 273.50,520.80 273.63,519.64 273.75,520.73 273.85,521.14 273.98,521.74 274.20,521.86 274.45,519.73 274.57,518.96 274.75,520.84 274.88,522.26 275.00,522.31 275.25,520.72 275.50,521.79 275.69,519.65 275.75,518.65 276.00,514.50 276.25,518.65 276.39,521.01 276.50,521.62 276.75,518.63 277.00,521.10 277.16,522.80 277.25,522.80 277.75,522.80 277.99,522.49 278.25,516.53 278.50,521.05 278.58,522.80 279.00,522.80 279.20,521.94 279.50,517.98 279.75,522.07 280.00,522.80 280.25,520.13 280.41,517.90 280.50,519.06 280.75,522.45 280.81,522.80 281.00,521.86 281.24,520.67 281.50,521.99 281.59,522.45 281.66,521.94 281.75,520.84 281.87,519.36 282.00,520.97 282.11,522.27 282.25,520.88 282.45,518.16 282.74,521.78 283.00,517.05 283.25,520.48 283.38,522.80 283.50,522.80 283.75,521.37 283.86,520.58 284.00,521.55 284.18,522.80 284.25,522.80 284.39,522.80 284.50,522.14 284.75,520.42 285.00,520.95 285.20,521.86 285.35,521.60 285.50,520.40 285.75,518.00 285.86,518.45 286.00,519.60 286.11,518.92 286.18,519.89 286.25,520.96 286.37,522.55 286.45,522.80 286.75,522.80 287.38,522.80 287.50,522.43 287.62,521.91 287.75,522.18 287.95,522.00 288.03,521.93 288.25,522.38 288.45,522.80 288.75,522.80 288.90,522.80 289.00,521.68 289.18,519.60 289.25,520.38 289.34,521.45 289.46,522.22 289.75,521.27 290.00,522.16 290.17,522.80 290.25,522.80 290.38,522.80 290.50,522.55 290.75,521.99 291.00,522.49 291.15,522.80 297.00,522.80 297.22,522.70 297.50,521.99 297.65,521.55 297.75,521.83 297.92,522.31 298.00,522.54 298.09,522.27 298.25,521.68 298.50,522.35 298.64,522.80 298.75,522.80 300.17,522.80 300.25,521.91 300.44,519.74 300.50,520.50 300.69,522.80 300.93,522.80 301.00,522.56 301.25,521.69 301.36,521.31 301.50,521.79 301.75,522.66 302.00,522.80 302.17,522.80 302.25,522.47 302.49,521.45 302.75,522.53 302.81,522.80 303.00,522.80 303.10,522.07 303.25,520.47 303.42,517.92 303.50,516.60 303.68,513.50 303.75,514.28 304.00,518.15 304.25,522.03 304.50,522.80 305.25,522.80 305.38,522.80 305.50,522.20 305.65,521.33 305.75,521.68 305.98,521.68 306.25,522.39 306.38,522.80 306.50,522.80 306.75,522.80 307.00,520.90 307.06,520.35 307.25,522.03 307.34,522.80 310.39,522.80 310.50,522.48 310.75,521.75 310.93,522.22 311.00,522.42 311.13,522.23 311.25,521.78 311.50,522.33 311.67,522.80 312.25,522.80 312.45,522.48 312.75,520.81 313.00,521.67 313.11,521.17 313.25,521.81 313.47,522.80 314.25,522.80 314.40,522.80 314.50,522.14 314.75,520.47 314.83,519.91 315.00,521.01 315.25,522.68 315.50,522.80 316.33,522.80 316.50,521.77 316.67,520.69 316.75,521.18 317.00,522.74 317.25,522.80 319.25,522.80 319.38,522.80 319.50,522.56 319.75,522.06 319.81,521.94 320.00,522.31 320.24,522.80 320.50,522.80 321.00,522.80 321.25,518.72 321.42,515.91 321.50,514.63 321.60,513.00 321.75,515.45 321.82,516.63 322.00,519.53 322.20,522.65 322.50,522.80 322.75,522.80 322.96,522.65 323.25,521.54 323.50,522.28 323.64,522.80 324.50,522.80 324.57,522.80 324.75,521.32 324.89,520.16 325.00,521.01 325.22,520.89 325.28,520.70 325.50,522.00 325.63,522.80 325.74,522.76 325.92,522.23 326.00,521.96 326.07,521.54 326.24,520.21 326.40,521.59 326.50,522.36 326.75,522.80 326.85,522.80 327.00,522.13 327.25,520.87 327.50,521.87 327.71,522.80 327.90,522.80 328.00,521.84 328.20,519.89 328.49,522.80 329.25,522.80 329.50,522.80 329.75,521.78 330.00,522.67 330.13,522.80 330.25,521.80 330.44,520.21 330.50,520.76 330.74,522.80 330.96,522.57 331.25,521.16 331.33,520.70 331.43,521.25 331.50,521.66 331.69,521.45 331.75,521.79 331.82,522.17 331.94,521.59 332.09,520.98 332.25,522.07 332.36,522.54 332.50,521.95 332.72,521.03 333.00,522.22 333.14,522.80 333.25,522.80 333.75,522.80 333.89,522.80 333.99,522.02 334.25,519.79 334.34,519.10 334.50,520.75 334.66,522.46 334.75,522.80 334.81,522.80 334.92,522.10 335.00,521.59 335.23,520.08 335.50,521.76 335.59,522.34 335.66,522.36 335.75,521.82 336.00,520.19 336.17,521.17 336.25,521.64 336.44,519.79 336.50,519.11 336.75,521.95 336.82,522.80 337.10,522.80 337.25,522.13 337.44,521.28 337.71,522.49 337.78,522.62 338.00,522.06 338.12,521.76 338.25,522.08 338.40,522.48 338.50,522.37 338.74,521.65 338.92,522.25 339.00,522.24 339.08,521.73 339.19,520.99 339.25,521.42 339.41,522.51 339.50,522.39 339.75,521.24 339.83,520.85 339.95,521.39 340.25,520.31 340.34,519.23 340.50,520.11 340.66,520.83 340.73,521.29 340.79,521.65 340.98,519.49 341.10,520.44 341.25,521.84 341.41,522.80 341.50,522.80 341.74,522.75 342.00,520.87 342.25,522.23 342.34,522.80 342.75,522.80 343.00,522.80 343.25,521.57 343.44,520.55 343.50,520.88 343.75,520.79 343.85,520.01 344.00,520.36 344.06,519.69 344.25,521.77 344.34,522.74 344.50,522.33 344.68,521.80 344.75,522.00 345.00,522.72 345.25,522.80 345.38,522.80 345.50,522.18 345.75,520.84 345.82,520.45 345.90,520.87 346.00,521.40 346.25,519.83 346.50,521.68 346.64,522.80 348.00,522.80 348.07,522.80 348.25,521.62 348.43,520.25 348.50,520.53 348.75,521.81 348.81,521.47 349.00,521.81 349.21,520.69 349.30,521.13 349.50,522.20 349.61,522.80 349.75,522.80 350.25,522.80 350.48,522.56 350.75,519.43 351.00,522.51 351.25,522.80 351.50,522.80 351.75,522.80 352.00,519.99 352.25,521.77 352.36,522.80 352.44,522.80 352.50,522.65 352.75,522.06 352.84,521.84 353.00,522.22 353.25,522.50 353.50,519.59 353.57,518.98 353.75,521.38 353.86,522.80 354.00,521.77 354.24,519.48 354.50,522.06 354.58,521.91 354.69,521.57 354.75,521.75 355.00,522.49 355.11,522.80 356.09,522.80 356.25,521.16 356.37,520.02 356.50,521.36 356.64,522.80 356.75,522.80 361.00,522.80 361.22,522.64 361.50,521.37 361.57,521.00 361.75,521.88 361.93,522.80 362.00,522.80 365.85,522.80 366.00,522.43 366.22,521.89 366.50,522.58 366.59,522.80 366.75,522.80 369.87,522.80 370.00,522.01 370.22,520.73 370.50,522.37 370.57,522.80 370.75,522.80 371.25,522.80 371.50,522.80 371.75,520.52 371.81,519.79 372.00,521.95 372.07,522.80 375.42,522.80 375.50,521.98 375.70,519.92 375.91,522.07 375.98,522.40 376.20,521.54 376.49,522.80 378.75,522.80" fill="none" stroke="#2a2a2a" stroke-width="0.90" stroke-linejoin="round"/><text x="362.4" y="508.8" font-size="7.0" letter-spacing="1.4">t8</text><text x="362.4" y="518.5" font-size="7.0" letter-spacing="1.4">t0</text></g>
<polygon points="236.5,513.3 237.3,495.9 238.3,499.5 239.3,507 240.6,513.3" fill="#1a1a1a"/>
<polygon points="241.5,513.3 242.0,504.2 242.6,513.3" fill="#1a1a1a"/>
<polygon points="236.3,522.8 236.9,513.3 238.0,512.5 239.5,515.5 241.0,518.5 242.5,522.8" fill="#1a1a1a"/>
<circle cx="69.9" cy="33.8" r="1.2" fill="#111"/>
<circle cx="264.9" cy="22.1" r="1.2" fill="#111"/>
<circle cx="75.1" cy="199.2" r="1.2" fill="#111"/>
<circle cx="270.6" cy="215.8" r="1.2" fill="#111"/>
<circle cx="129.5" cy="156.4" r="1.2" fill="#111"/>
<circle cx="323.3" cy="158.5" r="1.2" fill="#111"/>
<circle cx="141.3" cy="297.7" r="1.2" fill="#111"/>
<circle cx="333.9" cy="296.2" r="1.2" fill="#111"/>
<circle cx="143.5" cy="460.3" r="1.2" fill="#111"/>
<circle cx="336.8" cy="435.2" r="1.2" fill="#111"/>
</g></svg></body></html>
